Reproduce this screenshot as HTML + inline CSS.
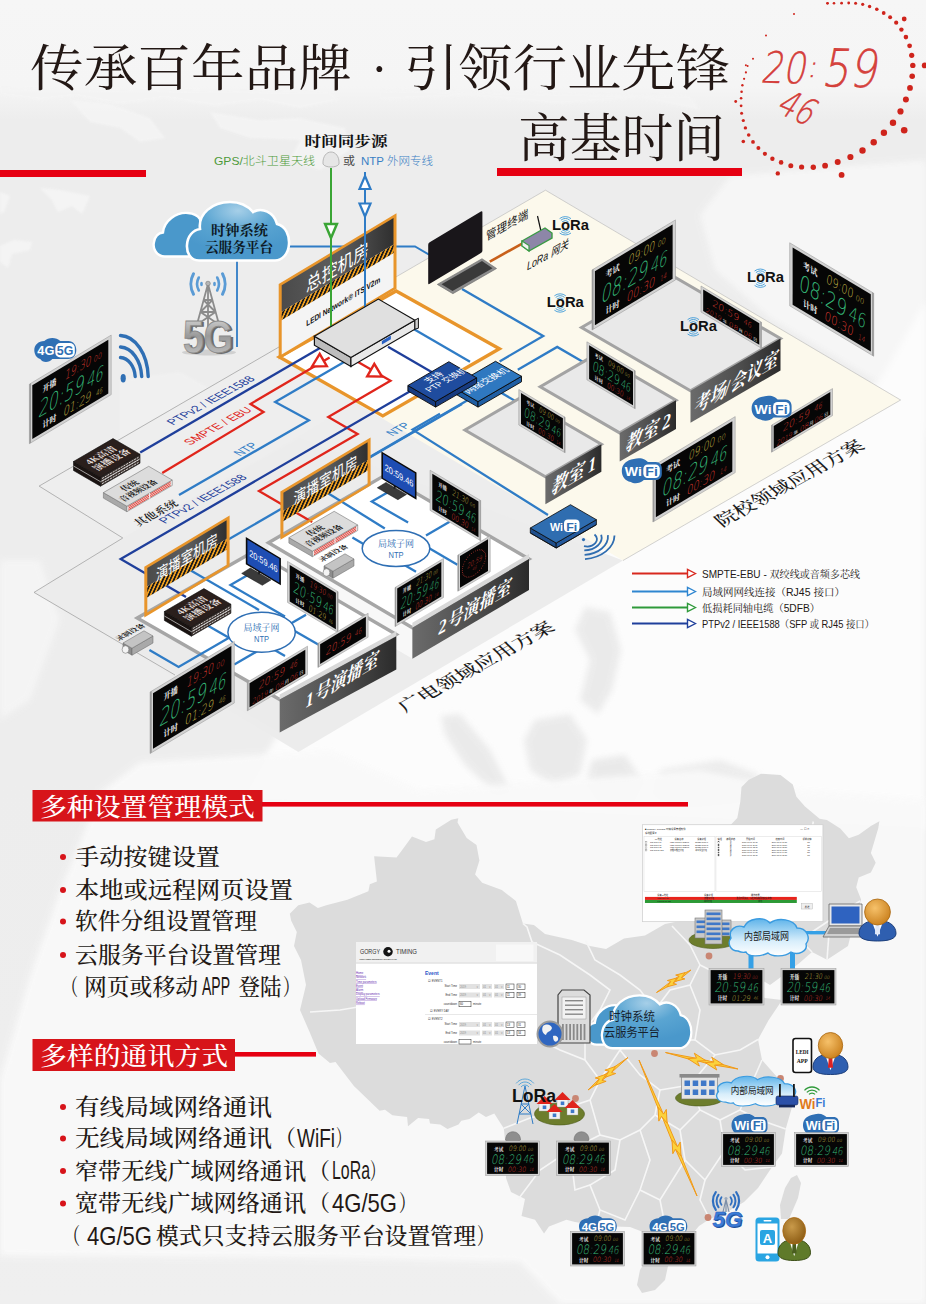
<!DOCTYPE html>
<html lang="zh"><head><meta charset="utf-8"><title>高基时间</title>
<style>html,body{margin:0;padding:0;background:#f1f1f1}svg{display:block}</style></head>
<body>
<svg width="926" height="1304" viewBox="0 0 926 1304">
<defs>
<linearGradient id="bgG" x1="0" y1="0" x2="0" y2="1">
 <stop offset="0" stop-color="#f6f6f6"/><stop offset="0.066" stop-color="#f5f5f5"/>
 <stop offset="0.092" stop-color="#ededed"/><stop offset="0.6" stop-color="#ededed"/>
 <stop offset="1" stop-color="#efefef"/></linearGradient>
<linearGradient id="darkG" x1="0" y1="0" x2="1" y2="0">
 <stop offset="0" stop-color="#4a4a4a"/><stop offset="0.5" stop-color="#5e5e5e"/><stop offset="1" stop-color="#2e2e2e"/></linearGradient>
<linearGradient id="labelG" x1="0" y1="0" x2="1" y2="0">
 <stop offset="0" stop-color="#6b6b6b"/><stop offset="0.55" stop-color="#4d4d4d"/><stop offset="1" stop-color="#2b2b2b"/></linearGradient>
<linearGradient id="cloudG" x1="0" y1="0" x2="0" y2="1">
 <stop offset="0" stop-color="#4f9fce"/><stop offset="1" stop-color="#7dbbe0"/></linearGradient>
<linearGradient id="cloudG2" x1="0" y1="0" x2="0" y2="1">
 <stop offset="0" stop-color="#3f95cf"/><stop offset="1" stop-color="#8cc6ea"/></linearGradient>
<linearGradient id="lanG" x1="0" y1="0" x2="0" y2="1">
 <stop offset="0" stop-color="#5fb4ea"/><stop offset="0.6" stop-color="#d8eefb"/><stop offset="1" stop-color="#ffffff"/></linearGradient>
<linearGradient id="metalG" x1="0" y1="0" x2="0" y2="1">
 <stop offset="0" stop-color="#e8e8e8"/><stop offset="0.5" stop-color="#9a9a9a"/><stop offset="1" stop-color="#c9c9c9"/></linearGradient>
<radialGradient id="headG" cx="0.4" cy="0.35" r="0.7">
 <stop offset="0" stop-color="#f6c16a"/><stop offset="1" stop-color="#c97f1c"/></radialGradient>
<radialGradient id="headG2" cx="0.4" cy="0.35" r="0.7">
 <stop offset="0" stop-color="#c99a4a"/><stop offset="1" stop-color="#8a5a12"/></radialGradient>
<pattern id="hazL" width="5" height="6" patternUnits="userSpaceOnUse" patternTransform="skewX(-32)">
 <rect width="5" height="6" fill="#f0a020"/><rect width="2.600" height="6" fill="#1a1a1a"/></pattern>
<radialGradient id="cloudR" cx="0.5" cy="0.15" r="0.7"><stop offset="0" stop-color="#a6cfe8"/><stop offset="0.5" stop-color="#5aa5d2"/><stop offset="1" stop-color="#4a98cb"/></radialGradient>
<pattern id="dotR" width="1.3" height="1.3" patternUnits="userSpaceOnUse"><circle cx="0.65" cy="0.65" r="0.52" fill="#e03a30"/></pattern>
<pattern id="dotG" width="1.3" height="1.3" patternUnits="userSpaceOnUse"><circle cx="0.65" cy="0.65" r="0.52" fill="#35c07c"/></pattern>
<pattern id="dotY" width="1.3" height="1.3" patternUnits="userSpaceOnUse"><circle cx="0.65" cy="0.65" r="0.52" fill="#d6c64a"/></pattern>
<filter id="blur3"><feGaussianBlur stdDeviation="3"/></filter>
<filter id="blur1"><feGaussianBlur stdDeviation="1.2"/></filter>
</defs>
<rect width="926" height="1304" fill="url(#bgG)"/>
<polygon points="0,95 40,100 75,96 120,104 165,98 215,106 260,100 300,108 340,100 330,92 0,88" fill="#f4f4f4" opacity="0.9" filter="url(#blur1)"/>
<polygon points="70,100 110,104 150,118 165,138 140,142 120,128 90,122" fill="#f5f5f5" opacity="0.8" filter="url(#blur1)"/>
<polygon points="210,112 260,120 300,118 345,128 350,150 320,170 290,160 300,140 250,138 220,128" fill="#f5f5f5" opacity="0.8" filter="url(#blur1)"/>
<polygon points="0,192 10,196 4,212 0,214" fill="#f6f6f6" opacity="0.8" filter="url(#blur1)"/>
<polygon points="40,188 60,190 90,196 82,214 72,206 58,212 52,200" fill="#f6f6f6" opacity="0.8" filter="url(#blur1)"/>
<polygon points="0,246 14,240 32,242 30,250 12,254 8,268 0,262" fill="#f6f6f6" opacity="0.8" filter="url(#blur1)"/>
<polygon points="380,100 470,96 560,104 640,98 700,110 690,96 380,90" fill="#f4f4f4" opacity="0.8" filter="url(#blur1)"/>
<polygon points="120,380 180,372 230,400 250,440 220,470 180,450 150,470 120,440" fill="#f3f3f3" opacity="0.6" filter="url(#blur1)"/>
<polygon points="730,176 800,170 926,160 926,440 905,398 770,318 715,270 700,215" fill="#f7f7f7" opacity="0.95" filter="url(#blur3)"/>
<polygon points="926,300 880,380 600,540 280,730 240,800 926,830" fill="#fcfcfc" opacity="1.0" filter="url(#blur3)"/>
<polygon points="585,607 610,612 621,650 612,690 598,714 580,700 590,660 575,630" fill="#e8e8e8" opacity="0.85" filter="url(#blur3)"/>
<polygon points="535,720 570,714 587,740 580,775 555,787 530,770 524,740" fill="#e8e8e8" opacity="0.85" filter="url(#blur3)"/>
<polygon points="441,716 460,714 490,750 510,790 495,793 465,765 445,735" fill="#e8e8e8" opacity="0.85" filter="url(#blur3)"/>
<polygon points="592,760 625,755 642,780 630,804 600,800 587,780" fill="#e8e8e8" opacity="0.9" filter="url(#blur3)"/>
<polygon points="660,770 720,760 760,775 740,800 690,805 655,795" fill="#e8e8e8" opacity="0.8" filter="url(#blur3)"/>
<polygon points="140,762 330,750 420,790 560,780 700,770 800,790 926,800 926,1304 560,1304 520,1262 300,1258 0,1256 0,1078 30,975 60,890 100,792" fill="#f9f9f9" opacity="0.95" filter="url(#blur3)"/>
<polygon points="0,560 40,560 60,620 30,700 0,720" fill="#f8f8f8" opacity="0.7" filter="url(#blur3)"/>
<text x="30" y="86" font-family='"Liberation Serif","Noto Serif CJK SC",serif' font-size="50" fill="#231815" font-weight="400" text-anchor="start" textLength="322" lengthAdjust="spacingAndGlyphs"  style="">传承百年品牌</text>
<text x="371" y="86" font-family='"Liberation Serif","Noto Serif CJK SC",serif' font-size="50" fill="#231815" font-weight="400" text-anchor="start"  style="">·</text>
<text x="404" y="86" font-family='"Liberation Serif","Noto Serif CJK SC",serif' font-size="50" fill="#231815" font-weight="400" text-anchor="start" textLength="326" lengthAdjust="spacingAndGlyphs"  style="">引领行业先锋</text>
<text x="518" y="156.5" font-family='"Liberation Serif","Noto Serif CJK SC",serif' font-size="52" fill="#231815" font-weight="400" text-anchor="start" textLength="207" lengthAdjust="spacingAndGlyphs"  style="">高基时间</text>
<rect x="0" y="170" width="146" height="7" fill="#e60012"/>
<rect x="497" y="168" width="245" height="8" fill="#e60012"/>
<circle cx="827.5" cy="3.2" r="1.2" fill="#cf241c"/>
<circle cx="834" cy="3.2" r="1.3" fill="#cf241c"/>
<circle cx="841.6" cy="3.2" r="1.4" fill="#cf241c"/>
<circle cx="848.7" cy="3" r="1.4" fill="#cf241c"/>
<circle cx="855.6" cy="3.2" r="1.5" fill="#cf241c"/>
<circle cx="862.7" cy="4.3" r="1.6" fill="#cf241c"/>
<circle cx="869.6" cy="6.5" r="1.7" fill="#cf241c"/>
<circle cx="876.8" cy="9.3" r="1.8" fill="#cf241c"/>
<circle cx="883.7" cy="13" r="1.9" fill="#cf241c"/>
<circle cx="890.1" cy="17.3" r="2" fill="#cf241c"/>
<circle cx="896.2" cy="22.7" r="2.1" fill="#cf241c"/>
<circle cx="901.4" cy="29.6" r="2.2" fill="#cf241c"/>
<circle cx="905.9" cy="37.1" r="2.3" fill="#cf241c"/>
<circle cx="909.6" cy="45.8" r="2.4" fill="#cf241c"/>
<circle cx="911.7" cy="55.3" r="2.6" fill="#cf241c"/>
<circle cx="912.8" cy="65.4" r="2.7" fill="#cf241c"/>
<circle cx="912.2" cy="76.2" r="2.8" fill="#cf241c"/>
<circle cx="910" cy="87.9" r="2.9" fill="#cf241c"/>
<circle cx="905.9" cy="99.6" r="3" fill="#cf241c"/>
<circle cx="900.5" cy="111.4" r="3.1" fill="#cf241c"/>
<circle cx="893" cy="122.7" r="3.2" fill="#cf241c"/>
<circle cx="883.9" cy="132.8" r="3.2" fill="#cf241c"/>
<circle cx="873.7" cy="142.3" r="3.2" fill="#cf241c"/>
<circle cx="862.5" cy="150.5" r="3.2" fill="#cf241c"/>
<circle cx="850.4" cy="157" r="3.1" fill="#cf241c"/>
<circle cx="837.7" cy="162" r="3" fill="#cf241c"/>
<circle cx="825.1" cy="165.7" r="2.9" fill="#cf241c"/>
<circle cx="813.3" cy="167.2" r="2.7" fill="#cf241c"/>
<circle cx="801.6" cy="167" r="2.6" fill="#cf241c"/>
<circle cx="790.8" cy="165.7" r="2.5" fill="#cf241c"/>
<circle cx="781.1" cy="162.4" r="2.3" fill="#cf241c"/>
<circle cx="772.4" cy="158.7" r="2.2" fill="#cf241c"/>
<circle cx="764.9" cy="153.8" r="2.1" fill="#cf241c"/>
<circle cx="758.4" cy="147.9" r="2" fill="#cf241c"/>
<circle cx="753" cy="141.9" r="1.9" fill="#cf241c"/>
<circle cx="748.7" cy="135" r="1.8" fill="#cf241c"/>
<circle cx="745.4" cy="127.9" r="1.7" fill="#cf241c"/>
<circle cx="743.3" cy="120.5" r="1.6" fill="#cf241c"/>
<circle cx="741.6" cy="113.2" r="1.5" fill="#cf241c"/>
<circle cx="741.1" cy="105.8" r="1.4" fill="#cf241c"/>
<circle cx="741.1" cy="98.3" r="1.3" fill="#cf241c"/>
<circle cx="741.6" cy="91.8" r="1.3" fill="#cf241c"/>
<circle cx="742.4" cy="85.3" r="1.2" fill="#cf241c"/>
<circle cx="744.1" cy="78.8" r="1.1" fill="#cf241c"/>
<circle cx="745.9" cy="72.4" r="1.1" fill="#cf241c"/>
<circle cx="747.6" cy="65.9" r="1" fill="#cf241c"/>
<circle cx="753" cy="58.7" r="1" fill="#cf241c"/>
<circle cx="904.2" cy="19" r="2.4" fill="#cf241c"/>
<circle cx="924.7" cy="65.4" r="2.9" fill="#cf241c"/>
<circle cx="904.2" cy="130.2" r="3.3" fill="#cf241c"/>
<circle cx="841.6" cy="174.9" r="2.9" fill="#cf241c"/>
<circle cx="777.8" cy="173.4" r="2.2" fill="#cf241c"/>
<circle cx="743.3" cy="141.5" r="1.8" fill="#cf241c"/>
<circle cx="735.7" cy="101.5" r="1.4" fill="#cf241c"/>
<circle cx="745.9" cy="65.2" r="1" fill="#cf241c"/>
<circle cx="766" cy="35.6" r="1" fill="#cf241c"/>
<circle cx="794" cy="14" r="1" fill="#cf241c"/>
<circle cx="827.5" cy="3.2" r="1.2" fill="#cf241c"/>
<g fill="#d0241c" stroke="#d0241c" stroke-width="0.5" font-family='"DejaVu Sans Light","DejaVu Sans","Liberation Sans",sans-serif' font-weight="200" fill-opacity="0.85" stroke-opacity="0.85">
<text transform="matrix(1,0.02,-0.2,1,760,82.5)" font-size="43" textLength="45" lengthAdjust="spacingAndGlyphs">20</text>
<text transform="matrix(1,0.02,-0.2,1,806.5,77)" font-size="30">:</text>
<text transform="matrix(1,0.03,-0.2,1,821,86)" font-size="52" textLength="55" lengthAdjust="spacingAndGlyphs">59</text>
<text transform="translate(774.5,111.5) rotate(24) skewX(-10)" font-size="37" textLength="36" lengthAdjust="spacingAndGlyphs">46</text>
</g>
<polygon points="39.1,486.1 280,346.4 363.7,398.3 122.8,538" fill="#eeeeee" />
<polyline points="280,346.4 39.1,486.1 122.8,538" fill="none" stroke="#9a9a9a" stroke-width="0.7" stroke-linejoin="miter" />
<polygon points="34,592.4 122.8,538 300,438 623,560.5 298.4,752" fill="#ececec" />
<polyline points="122.8,538 34,592.4 175,675" fill="none" stroke="#9a9a9a" stroke-width="0.7" stroke-linejoin="miter" />
<polygon points="545.5,190.2 900.6,400 623,560.5 290,363.9 290,338.4" fill="#fcf9ec" />
<polyline points="290,338.4 545.5,190.2 900.6,400 623,560.5" fill="none" stroke="#b5b5b5" stroke-width="0.6" stroke-linejoin="miter" />
<polygon points="279.4,357 396.1,290.9 499.4,348.7 382.8,415.9" fill="#ffffff" stroke="#e8952b" stroke-width="3.4" />
<polygon points="268.5,542.7 412.4,627.7 412.4,658.7 268.5,573.7" fill="#f8f8f8" />
<polygon points="268.5,542.7 385.1,475.1 529,559 412.4,627.7" fill="#ffffff" stroke="#a6a6a6" stroke-width="3.4" />
<polygon points="137.2,618 279.7,699.5 279.7,732.5 137.2,651" fill="#ebebeb" />
<polygon points="137.2,618 253.8,551.5 396.3,634.5 279.7,699.5" fill="#ffffff" stroke="#a6a6a6" stroke-width="3.4" />
<polyline points="288,246.5 415,246.5 429,254.6" fill="none" stroke="#2f7cc6" stroke-width="1.8" stroke-linejoin="miter" />
<polyline points="237,258 237,347" fill="none" stroke="#2f7cc6" stroke-width="1.8" stroke-linejoin="miter" />
<polyline points="331,168 331,350" fill="none" stroke="#3aa535" stroke-width="2" stroke-linejoin="miter" />
<polyline points="365,172 365,340" fill="none" stroke="#2f7cc6" stroke-width="2" stroke-linejoin="miter" />
<polyline points="140.2,452.4 320,348" fill="none" stroke="#1f3f9b" stroke-width="2.3" stroke-linejoin="miter" />
<polyline points="162.2,473 263.5,412 250.5,404 329.6,357.5" fill="none" stroke="#e0251b" stroke-width="2.3" stroke-linejoin="miter" />
<polyline points="179,495 308.9,420.2 275.2,402 345,361.5" fill="none" stroke="#2f7cc6" stroke-width="2.3" stroke-linejoin="miter" />
<polyline points="352,358.5 390.5,380.8 328.3,416.9 357.6,433.9 259,491.1 312.2,522" fill="none" stroke="#e0251b" stroke-width="2.3" stroke-linejoin="miter" />
<polyline points="420,385.5 120.7,559.1 186,597" fill="none" stroke="#1f3f9b" stroke-width="2.3" stroke-linejoin="miter" />
<polyline points="388,346.8 432,372.3" fill="none" stroke="#1f3f9b" stroke-width="2.3" stroke-linejoin="miter" />
<polyline points="405,324 470,361.7" fill="none" stroke="#2f7cc6" stroke-width="2.3" stroke-linejoin="miter" />
<polyline points="462,289 543.2,336.1 499.6,361.4" fill="none" stroke="#2f7cc6" stroke-width="2.3" stroke-linejoin="miter" />
<polyline points="517.8,369.7 557.2,346.9 587,364.2" fill="none" stroke="#2f7cc6" stroke-width="2.3" stroke-linejoin="miter" />
<polyline points="499,391.5 520,403.7" fill="none" stroke="#2f7cc6" stroke-width="2.3" stroke-linejoin="miter" />
<polyline points="480,393.1 369.8,457" fill="none" stroke="#2f7cc6" stroke-width="2.3" stroke-linejoin="miter" />
<polyline points="462,404 228.7,539.3" fill="none" stroke="#2f7cc6" stroke-width="2.3" stroke-linejoin="miter" />
<polyline points="440,413.7 412.6,429.6 548,515" fill="none" stroke="#2f7cc6" stroke-width="2.3" stroke-linejoin="miter" />
<polyline points="187.8,568.7 259,610" fill="none" stroke="#2f7cc6" stroke-width="2.3" stroke-linejoin="miter" />
<polyline points="247.4,575.2 230.5,585 285,616.6" fill="none" stroke="#2f7cc6" stroke-width="2.3" stroke-linejoin="miter" />
<polyline points="208,625.7 232,639.6" fill="none" stroke="#2f7cc6" stroke-width="2.3" stroke-linejoin="miter" />
<polyline points="149.4,650 178.6,667 232,636" fill="none" stroke="#2f7cc6" stroke-width="2.3" stroke-linejoin="miter" />
<polyline points="262.8,648 234.3,664.5" fill="none" stroke="#2f7cc6" stroke-width="2.3" stroke-linejoin="miter" />
<polyline points="266,645 285,656" fill="none" stroke="#2f7cc6" stroke-width="2.3" stroke-linejoin="miter" />
<polyline points="290,624 306,614.7" fill="none" stroke="#2f7cc6" stroke-width="2.3" stroke-linejoin="miter" />
<polyline points="293,630 326,649" fill="none" stroke="#2f7cc6" stroke-width="2.3" stroke-linejoin="miter" />
<polyline points="326.5,492.2 384.8,528.5" fill="none" stroke="#2f7cc6" stroke-width="2.3" stroke-linejoin="miter" />
<polyline points="390,491 371.8,501.6 408.1,522.6" fill="none" stroke="#2f7cc6" stroke-width="2.3" stroke-linejoin="miter" />
<polyline points="352.4,537.6 366,545.5" fill="none" stroke="#2f7cc6" stroke-width="2.3" stroke-linejoin="miter" />
<polyline points="426,535.5 449.6,521.7" fill="none" stroke="#2f7cc6" stroke-width="2.3" stroke-linejoin="miter" />
<polyline points="426.3,546.6 457.4,564.8" fill="none" stroke="#2f7cc6" stroke-width="2.3" stroke-linejoin="miter" />
<polyline points="401,563 416,571.7" fill="none" stroke="#2f7cc6" stroke-width="2.3" stroke-linejoin="miter" />
<polygon points="73.5,461.5 100.5,477.2 100.5,486.2 73.5,470.5" fill="#1a1311" stroke="#0c0c0c" stroke-width="0.6" />
<polygon points="100.5,477.2 140,454.2 140,463.2 100.5,486.2" fill="#3a302c" stroke="#0c0c0c" stroke-width="0.6" />
<polygon points="73.5,461.5 113,438.6 140,454.2 100.5,477.2" fill="#2a1f1c" stroke="#0c0c0c" stroke-width="0.6" />
<polyline points="102,478.5 138.5,457.3" fill="none" stroke="#e8e8e8" stroke-width="0.9" stroke-linejoin="miter" stroke-dasharray="2.2 0.9"/>
<polyline points="102,481.1 138.5,459.9" fill="none" stroke="#e8e8e8" stroke-width="0.9" stroke-linejoin="miter" stroke-dasharray="2.2 0.9"/>
<polyline points="102,483.7 138.5,462.5" fill="none" stroke="#e8e8e8" stroke-width="0.9" stroke-linejoin="miter" stroke-dasharray="2.2 0.9"/>
<polyline points="73.5,466 100.5,481.7 140,458.8" fill="none" stroke="#d8d8d8" stroke-width="0.7" stroke-linejoin="miter" />
<g transform="matrix(0.9,-0.5,0.9,0.5,90,464.7)">
<text x="0" y="0" font-family='"Liberation Serif","Noto Serif CJK SC",serif' font-size="9.8" font-weight="bold" fill="#e6dfdb" textLength="31" lengthAdjust="spacingAndGlyphs">4K高清</text>
<text x="-2" y="10.4" font-family='"Liberation Serif","Noto Serif CJK SC",serif' font-size="9.8" font-weight="bold" fill="#e6dfdb" textLength="38" lengthAdjust="spacingAndGlyphs">演播设备</text>
</g>
<polygon points="103.4,492.6 126.9,506.2 126.9,511.7 103.4,498.1" fill="#a9a9a9" stroke="#777" stroke-width="0.6" />
<polygon points="126.9,506.2 172.2,480 172.2,485.5 126.9,511.7" fill="#f2f2f2" stroke="#777" stroke-width="0.6" />
<polygon points="103.4,492.6 148.7,466.3 172.2,480 126.9,506.2" fill="#dcdcdc" stroke="#777" stroke-width="0.6" />
<polyline points="128.4,506.6 170.7,482" fill="none" stroke="#e2352b" stroke-width="0.9" stroke-linejoin="miter" />
<polyline points="128.4,508.2 170.7,483.6" fill="none" stroke="#e2352b" stroke-width="0.9" stroke-linejoin="miter" />
<polyline points="128.4,509.8 170.7,485.2" fill="none" stroke="#e2352b" stroke-width="0.9" stroke-linejoin="miter" />
<polyline points="149.6,493.1 149.6,498.6" fill="none" stroke="#f2f2f2" stroke-width="1" stroke-linejoin="miter" />
<g transform="matrix(0.9,-0.5,0.9,0.5,118.4,495.1)">
<text x="7" y="0" font-family='"Liberation Serif","Noto Serif CJK SC",serif' font-size="8.8" font-weight="bold" fill="#1c1c1c" textLength="17" lengthAdjust="spacingAndGlyphs">传统</text>
<text x="-4" y="9.6" font-family='"Liberation Serif","Noto Serif CJK SC",serif' font-size="8.8" font-weight="bold" fill="#1c1c1c" textLength="39" lengthAdjust="spacingAndGlyphs">音视频设备</text>
</g>
<g transform="matrix(0.9,-0.5,0.9,0.5,138.5,527)">
<text x="0" y="0" font-family='"Liberation Serif","Noto Serif CJK SC",serif' font-size="11.8" font-weight="600" font-style="italic" fill="#1a1a1a" textLength="45" lengthAdjust="spacingAndGlyphs">其他系统</text>
</g>
<g transform="matrix(0.9,-0.5,0.9,0.5,173,425.5)">
<text x="0" y="0" font-family='"Liberation Sans","Noto Sans CJK SC",sans-serif' font-size="12" fill="#1f3f9b" textLength="92" lengthAdjust="spacingAndGlyphs">PTPv2 / IEEE1588</text>
</g>
<g transform="matrix(0.9,-0.5,0.9,0.5,190,445.5)">
<text x="0" y="0" font-family='"Liberation Sans","Noto Sans CJK SC",sans-serif' font-size="12" fill="#e0251b" textLength="70" lengthAdjust="spacingAndGlyphs">SMPTE / EBU</text>
</g>
<g transform="matrix(0.9,-0.5,0.9,0.5,240,456.5)">
<text x="0" y="0" font-family='"Liberation Sans","Noto Sans CJK SC",sans-serif' font-size="12" fill="#2f7cc6" textLength="21" lengthAdjust="spacingAndGlyphs">NTP</text>
</g>
<g transform="matrix(0.9,-0.5,0.9,0.5,165,524)">
<text x="0" y="0" font-family='"Liberation Sans","Noto Sans CJK SC",sans-serif' font-size="12" fill="#1f3f9b" textLength="92" lengthAdjust="spacingAndGlyphs">PTPv2 / IEEE1588</text>
</g>
<g transform="matrix(0.9,-0.5,0.9,0.5,392.5,436.5)">
<text x="0" y="0" font-family='"Liberation Sans","Noto Sans CJK SC",sans-serif' font-size="12" fill="#2f7cc6" textLength="21" lengthAdjust="spacingAndGlyphs">NTP</text>
</g>
<g transform="matrix(1,-0.6,0,1,280.2,284.6)">
<rect x="0" y="0" width="114.8" height="72.4" fill="#f4f4f4"/>
<rect x="0" y="0" width="114.8" height="28" fill="url(#darkG)"/>
<rect x="0" y="28" width="114.8" height="8.5" fill="url(#hazL)"/>
<rect x="0" y="0" width="114.8" height="72.4" fill="none" stroke="#e8952b" stroke-width="3"/>
<text x="57.4" y="23.8" font-family='"Liberation Sans","Noto Sans CJK SC",sans-serif' font-size="18.5" fill="#ffffff" text-anchor="middle" textLength="63" lengthAdjust="spacingAndGlyphs">总控机房</text>
<text x="26" y="57.5" font-family='"Liberation Sans","Noto Sans CJK SC",sans-serif' font-size="8.4" font-weight="bold" fill="#111" textLength="74" lengthAdjust="spacingAndGlyphs">LEDI Network® ITS V2m</text>
</g>
<polyline points="331,168 331,342" fill="none" stroke="#3aa535" stroke-width="2" stroke-linejoin="miter" />
<polyline points="365,172 365,322" fill="none" stroke="#2f7cc6" stroke-width="2" stroke-linejoin="miter" />
<polygon points="314.4,336.2 350.9,357.4 350.9,366.4 314.4,345.2" fill="#bdbdbd" stroke="#111" stroke-width="1.2" />
<polygon points="350.9,357.4 414.9,320.2 414.9,329.2 350.9,366.4" fill="#e9e9e9" stroke="#111" stroke-width="1.2" />
<polygon points="314.4,336.2 378.4,299.1 414.9,320.2 350.9,357.4" fill="#e0e0e0" stroke="#111" stroke-width="1.2" />
<rect transform="matrix(1,-0.6,0,1,350.9,357.4)" x="31" y="2.2" width="9" height="3.6" fill="#2b62c4"/>
<polygon points="414.9,320.2 418.4,318.2 418.4,328.2 414.9,329.2" fill="#d0d0d0" stroke="#111" stroke-width="1" />
<polygon points="312,366.5 319.7,353.8 326.8,366.2" fill="#ffffff" stroke="#e0251b" stroke-width="2.4" stroke-linejoin="miter"/>
<polygon points="382,376.6 367.2,376.3 374.3,363.9" fill="#ffffff" stroke="#e0251b" stroke-width="2.4" stroke-linejoin="miter"/>
<polygon points="331,238 325.1,224 336.9,224" fill="#ffffff" stroke="#3aa535" stroke-width="2.5" stroke-linejoin="miter"/>
<polygon points="365,176 370.5,189 359.5,189" fill="#ffffff" stroke="#2f7cc6" stroke-width="2.2" stroke-linejoin="miter"/>
<polygon points="365,216.5 359.5,203.5 370.5,203.5" fill="#ffffff" stroke="#2f7cc6" stroke-width="2.2" stroke-linejoin="miter"/>
<polygon points="452,386.5 478,401.6 478,407.1 452,392" fill="#1f5ea3" stroke="#0a0a0a" stroke-width="0.9" />
<polygon points="478,401.6 521.5,376.3 521.5,381.8 478,407.1" fill="#1f5ea3" stroke="#0a0a0a" stroke-width="0.9" />
<polygon points="452,386.5 495.5,361.3 521.5,376.3 478,401.6" fill="#2f78c0" stroke="#0a0a0a" stroke-width="0.9" />
<g transform="matrix(0.9,-0.5,0.9,0.5,468.5,394)">
<text x="0" y="0" font-family='"Liberation Sans","Noto Sans CJK SC",sans-serif' font-size="9.3" fill="#ffffff" textLength="46" lengthAdjust="spacingAndGlyphs">网络交换机</text>
</g>
<polygon points="407.9,385.5 435.6,401.6 435.6,407.1 407.9,391" fill="#173b80" stroke="#0a0a0a" stroke-width="0.9" />
<polygon points="435.6,401.6 476.6,377.8 476.6,383.3 435.6,407.1" fill="#173b80" stroke="#0a0a0a" stroke-width="0.9" />
<polygon points="407.9,385.5 448.9,361.7 476.6,377.8 435.6,401.6" fill="#1f4c9e" stroke="#0a0a0a" stroke-width="0.9" />
<g transform="matrix(0.9,-0.5,0.9,0.5,428.5,383.5)">
<text x="0" y="0" font-family='"Liberation Sans","Noto Sans CJK SC",sans-serif' font-size="9" fill="#ffffff" textLength="18" lengthAdjust="spacingAndGlyphs">支持</text>
<text x="-8" y="9.5" font-family='"Liberation Sans","Noto Sans CJK SC",sans-serif' font-size="9" fill="#ffffff" textLength="43" lengthAdjust="spacingAndGlyphs">PTP 交换机</text>
</g>
<polygon points="437.3,284.4 482,258.7 496.6,268.5 452.9,293.7" fill="#8c8c8c" stroke="#6a6a6a" stroke-width="0.6" />
<polygon points="441.5,284.2 482,261 492.5,268.2 452.5,291" fill="#3a3a3a" />
<polyline points="489.8,261.6 523.9,242.6" fill="none" stroke="#c8601a" stroke-width="2.6" stroke-linejoin="miter" />
<g transform="matrix(1,-0.6,0,1,428.2,243.2)">
<rect x="0" y="0" width="54.2" height="41.5" rx="1.5" fill="#19161a"/>
</g>
<g transform="matrix(0.9,-0.5,0,1,486,241)">
<text x="0" y="0" font-family='"Liberation Sans","Noto Sans CJK SC",sans-serif' font-size="12" fill="#1a1a1a" textLength="47" lengthAdjust="spacingAndGlyphs">管理终端</text>
</g>
<polyline points="541.4,233 537.5,216" fill="none" stroke="#111" stroke-width="1.2" stroke-linejoin="miter" />
<polygon points="522,241 545,228 552,233 552,238 529,251 522,246" fill="#8d86a8" stroke="#3a9a44" stroke-width="1.4" />
<polygon points="522,241 529,245.5 529,251 522,246" fill="#f2f2f2" stroke="#3a9a44" stroke-width="1.2" />
<g transform="matrix(0.9,-0.5,0,1,527,270.5)">
<text x="0" y="0" font-family='"Liberation Sans","Noto Sans CJK SC",sans-serif' font-size="11.5" font-style="italic" fill="#111" textLength="46" lengthAdjust="spacingAndGlyphs">LoRa 网关</text>
</g>
<polygon points="581.5,327.5 671.5,275.3 780.5,338.5 690.5,390.7" fill="#e9e9e9" stroke="#a3a3a3" stroke-width="3" />
<polygon points="690.5,390.7 780.5,338.5 780.5,370.5 690.5,422.7" fill="url(#labelG)" />
<g transform="matrix(1,-0.6,0,1,690.5,390.7)">
<text x="3" y="25.6" font-family='"Liberation Serif","Noto Serif CJK SC",serif' font-size="19" font-weight="bold" font-style="italic" fill="#ffffff" textLength="84" lengthAdjust="spacingAndGlyphs">考场/会议室</text>
</g>
<polygon points="540.2,386.8 596.5,354.1 676,400.3 619.7,432.9" fill="#e9e9e9" stroke="#a3a3a3" stroke-width="3" />
<polygon points="619.7,432.9 676,400.3 676,428.9 619.7,461.5" fill="url(#labelG)" />
<g transform="matrix(1,-0.6,0,1,619.7,432.9)">
<text x="5.1" y="22.9" font-family='"Liberation Serif","Noto Serif CJK SC",serif' font-size="19" font-weight="bold" font-style="italic" fill="#ffffff" textLength="46" lengthAdjust="spacingAndGlyphs">教室 2</text>
</g>
<polygon points="464.9,430 520.9,397.5 601.4,444.2 545.4,476.7" fill="#e9e9e9" stroke="#a3a3a3" stroke-width="3" />
<polygon points="545.4,476.7 601.4,444.2 601.4,471.8 545.4,504.3" fill="url(#labelG)" />
<g transform="matrix(1,-0.6,0,1,545.4,476.7)">
<text x="5" y="22.1" font-family='"Liberation Serif","Noto Serif CJK SC",serif' font-size="19" font-weight="bold" font-style="italic" fill="#ffffff" textLength="46" lengthAdjust="spacingAndGlyphs">教室 1</text>
</g>
<g transform="matrix(1,-0.6,0,1,592,270)">
<rect x="0" y="0" width="83.5" height="60" fill="#d2d2d2" stroke="#9c9c9c" stroke-width="0.5"/>
<rect x="0" y="0" width="1.6" height="60" fill="#9a9a9a"/>
<rect x="2.9" y="2.9" width="77.7" height="54.2" fill="#060606"/>
<text x="13.4" y="16.5" font-family='"Liberation Serif","Noto Serif CJK SC",serif' font-weight="bold" font-size="8.7" fill="#f4f4f4" textLength="14.2" lengthAdjust="spacingAndGlyphs">考试</text>
<text transform="translate(35.8,17.1) skewX(-9)" font-family='"DejaVu Sans Light","DejaVu Sans","Liberation Sans",sans-serif' font-weight="200" font-size="12.6" fill="#cdbd48" textLength="26.7" lengthAdjust="spacingAndGlyphs">09:00</text>
<text transform="translate(65.2,16.8) skewX(-9)" font-family='"DejaVu Sans Light","DejaVu Sans","Liberation Sans",sans-serif' font-weight="200" font-size="7.6" fill="#cdbd48" textLength="8.3" lengthAdjust="spacingAndGlyphs">00</text>
<text transform="translate(8.5,39.3) skewX(-9)" font-family='"DejaVu Sans Light","DejaVu Sans","Liberation Sans",sans-serif' font-weight="200" font-size="22.6" fill="#35b777" textLength="46.8" lengthAdjust="spacingAndGlyphs">08:29</text>
<text transform="translate(58,39) skewX(-9)" font-family='"DejaVu Sans Light","DejaVu Sans","Liberation Sans",sans-serif' font-weight="200" font-size="19.4" fill="#35b777" textLength="16.7" lengthAdjust="spacingAndGlyphs">46</text>
<text x="13.4" y="52.5" font-family='"Liberation Serif","Noto Serif CJK SC",serif' font-weight="bold" font-size="8.7" fill="#f4f4f4" textLength="14.2" lengthAdjust="spacingAndGlyphs">计时</text>
<text transform="translate(34.2,53.1) skewX(-9)" font-family='"DejaVu Sans Light","DejaVu Sans","Liberation Sans",sans-serif' font-weight="200" font-size="12.6" fill="#d8382f" textLength="28.4" lengthAdjust="spacingAndGlyphs">00:30</text>
<text transform="translate(67.7,52.5) skewX(-9)" font-family='"DejaVu Sans Light","DejaVu Sans","Liberation Sans",sans-serif' font-weight="200" font-size="7.6" fill="#d8382f" textLength="6.7" lengthAdjust="spacingAndGlyphs">14</text>
</g>
<g transform="matrix(1,0.6,0,1,701,286)">
<rect x="0" y="0" width="60.5" height="26" fill="#d2d2d2" stroke="#9c9c9c" stroke-width="0.5"/>
<rect x="59.3" y="0" width="1.2" height="26" fill="#9a9a9a"/>
<rect x="2.2" y="2.2" width="56.1" height="21.6" fill="#060606"/>
<text transform="translate(10.9,13) skewX(-9)" font-family='"DejaVu Sans Light","DejaVu Sans","Liberation Sans",sans-serif' font-weight="200" font-size="9.6" fill="#d8382f" textLength="26.6" lengthAdjust="spacingAndGlyphs">20:59</text>
<text transform="translate(42.2,12.2) skewX(-9)" font-family='"DejaVu Sans Light","DejaVu Sans","Liberation Sans",sans-serif' font-weight="200" font-size="7.9" fill="#d8382f" textLength="7.9" lengthAdjust="spacingAndGlyphs">46</text>
<text transform="translate(4.6,22.9) skewX(-9)" font-family='"DejaVu Sans Light","DejaVu Sans","Liberation Sans",sans-serif' font-weight="200" font-size="6.6" fill="#d8382f" textLength="15.7" lengthAdjust="spacingAndGlyphs">2019</text>
<text x="21.8" y="22.6" font-family='"Liberation Sans","Noto Sans CJK SC",sans-serif' font-size="4.4" fill="#cfcfcf">年</text>
<text transform="translate(27.6,22.9) skewX(-9)" font-family='"DejaVu Sans Light","DejaVu Sans","Liberation Sans",sans-serif' font-weight="200" font-size="6.6" fill="#d8382f" textLength="9.1" lengthAdjust="spacingAndGlyphs">08</text>
<text x="37.5" y="22.6" font-family='"Liberation Sans","Noto Sans CJK SC",sans-serif' font-size="4.4" fill="#cfcfcf">月</text>
<text transform="translate(42.2,22.9) skewX(-9)" font-family='"DejaVu Sans Light","DejaVu Sans","Liberation Sans",sans-serif' font-weight="200" font-size="6.6" fill="#d8382f" textLength="8.5" lengthAdjust="spacingAndGlyphs">06</text>
<text x="52" y="22.6" font-family='"Liberation Sans","Noto Sans CJK SC",sans-serif' font-size="4.4" fill="#cfcfcf">日</text>
</g>
<g transform="matrix(1,0.6,0,1,586.9,341.8)">
<rect x="0" y="0" width="48.3" height="38" fill="#d2d2d2" stroke="#9c9c9c" stroke-width="0.5"/>
<rect x="47.1" y="0" width="1.2" height="38" fill="#9a9a9a"/>
<rect x="2.2" y="2.2" width="43.9" height="33.6" fill="#060606"/>
<text x="7.7" y="10.5" font-family='"Liberation Serif","Noto Serif CJK SC",serif' font-weight="bold" font-size="5.5" fill="#f4f4f4" textLength="8.2" lengthAdjust="spacingAndGlyphs">考试</text>
<text transform="translate(20.8,10.8) skewX(-9)" font-family='"DejaVu Sans Light","DejaVu Sans","Liberation Sans",sans-serif' font-weight="200" font-size="8" fill="#cdbd48" textLength="15.5" lengthAdjust="spacingAndGlyphs">09:00</text>
<text transform="translate(37.7,10.6) skewX(-9)" font-family='"DejaVu Sans Light","DejaVu Sans","Liberation Sans",sans-serif' font-weight="200" font-size="4.8" fill="#cdbd48" textLength="4.8" lengthAdjust="spacingAndGlyphs">00</text>
<text transform="translate(5,24.9) skewX(-9)" font-family='"DejaVu Sans Light","DejaVu Sans","Liberation Sans",sans-serif' font-weight="200" font-size="14.3" fill="#35b777" textLength="27" lengthAdjust="spacingAndGlyphs">08:29</text>
<text transform="translate(33.6,24.7) skewX(-9)" font-family='"DejaVu Sans Light","DejaVu Sans","Liberation Sans",sans-serif' font-weight="200" font-size="12.3" fill="#35b777" textLength="9.7" lengthAdjust="spacingAndGlyphs">46</text>
<text x="7.7" y="33.2" font-family='"Liberation Serif","Noto Serif CJK SC",serif' font-weight="bold" font-size="5.5" fill="#f4f4f4" textLength="8.2" lengthAdjust="spacingAndGlyphs">计时</text>
<text transform="translate(19.8,33.6) skewX(-9)" font-family='"DejaVu Sans Light","DejaVu Sans","Liberation Sans",sans-serif' font-weight="200" font-size="8" fill="#d8382f" textLength="16.4" lengthAdjust="spacingAndGlyphs">00:30</text>
<text transform="translate(39.2,33.2) skewX(-9)" font-family='"DejaVu Sans Light","DejaVu Sans","Liberation Sans",sans-serif' font-weight="200" font-size="4.8" fill="#d8382f" textLength="3.9" lengthAdjust="spacingAndGlyphs">14</text>
</g>
<g transform="matrix(1,0.6,0,1,518.8,389.5)">
<rect x="0" y="0" width="46.3" height="35.5" fill="#d2d2d2" stroke="#9c9c9c" stroke-width="0.5"/>
<rect x="45.1" y="0" width="1.2" height="35.5" fill="#9a9a9a"/>
<rect x="2.2" y="2.2" width="41.9" height="31.1" fill="#060606"/>
<text x="7.4" y="9.8" font-family='"Liberation Serif","Noto Serif CJK SC",serif' font-weight="bold" font-size="5.1" fill="#f4f4f4" textLength="7.9" lengthAdjust="spacingAndGlyphs">考试</text>
<text transform="translate(19.9,10.1) skewX(-9)" font-family='"DejaVu Sans Light","DejaVu Sans","Liberation Sans",sans-serif' font-weight="200" font-size="7.5" fill="#cdbd48" textLength="14.8" lengthAdjust="spacingAndGlyphs">09:00</text>
<text transform="translate(36.2,9.9) skewX(-9)" font-family='"DejaVu Sans Light","DejaVu Sans","Liberation Sans",sans-serif' font-weight="200" font-size="4.5" fill="#cdbd48" textLength="4.6" lengthAdjust="spacingAndGlyphs">00</text>
<text transform="translate(4.8,23.3) skewX(-9)" font-family='"DejaVu Sans Light","DejaVu Sans","Liberation Sans",sans-serif' font-weight="200" font-size="13.4" fill="#35b777" textLength="25.9" lengthAdjust="spacingAndGlyphs">08:29</text>
<text transform="translate(32.2,23.1) skewX(-9)" font-family='"DejaVu Sans Light","DejaVu Sans","Liberation Sans",sans-serif' font-weight="200" font-size="11.5" fill="#35b777" textLength="9.3" lengthAdjust="spacingAndGlyphs">46</text>
<text x="7.4" y="31.1" font-family='"Liberation Serif","Noto Serif CJK SC",serif' font-weight="bold" font-size="5.1" fill="#f4f4f4" textLength="7.9" lengthAdjust="spacingAndGlyphs">计时</text>
<text transform="translate(19,31.4) skewX(-9)" font-family='"DejaVu Sans Light","DejaVu Sans","Liberation Sans",sans-serif' font-weight="200" font-size="7.5" fill="#d8382f" textLength="15.7" lengthAdjust="spacingAndGlyphs">00:30</text>
<text transform="translate(37.5,31.1) skewX(-9)" font-family='"DejaVu Sans Light","DejaVu Sans","Liberation Sans",sans-serif' font-weight="200" font-size="4.5" fill="#d8382f" textLength="3.7" lengthAdjust="spacingAndGlyphs">14</text>
</g>
<g transform="matrix(1,0.6,0,1,789.7,242.8)">
<rect x="0" y="0" width="84" height="63" fill="#d2d2d2" stroke="#9c9c9c" stroke-width="0.5"/>
<rect x="82.4" y="0" width="1.6" height="63" fill="#9a9a9a"/>
<rect x="2.9" y="2.9" width="78.2" height="57.2" fill="#060606"/>
<text x="13.4" y="17.3" font-family='"Liberation Serif","Noto Serif CJK SC",serif' font-weight="bold" font-size="9.1" fill="#f4f4f4" textLength="14.3" lengthAdjust="spacingAndGlyphs">考试</text>
<text transform="translate(36.1,18) skewX(-9)" font-family='"DejaVu Sans Light","DejaVu Sans","Liberation Sans",sans-serif' font-weight="200" font-size="13.3" fill="#cdbd48" textLength="26.9" lengthAdjust="spacingAndGlyphs">09:00</text>
<text transform="translate(65.6,17.6) skewX(-9)" font-family='"DejaVu Sans Light","DejaVu Sans","Liberation Sans",sans-serif' font-weight="200" font-size="8" fill="#cdbd48" textLength="8.4" lengthAdjust="spacingAndGlyphs">00</text>
<text transform="translate(8.6,41.3) skewX(-9)" font-family='"DejaVu Sans Light","DejaVu Sans","Liberation Sans",sans-serif' font-weight="200" font-size="23.8" fill="#35b777" textLength="47" lengthAdjust="spacingAndGlyphs">08:29</text>
<text transform="translate(58.4,41) skewX(-9)" font-family='"DejaVu Sans Light","DejaVu Sans","Liberation Sans",sans-serif' font-weight="200" font-size="20.4" fill="#35b777" textLength="16.8" lengthAdjust="spacingAndGlyphs">46</text>
<text x="13.4" y="55.1" font-family='"Liberation Serif","Noto Serif CJK SC",serif' font-weight="bold" font-size="9.1" fill="#f4f4f4" textLength="14.3" lengthAdjust="spacingAndGlyphs">计时</text>
<text transform="translate(34.4,55.8) skewX(-9)" font-family='"DejaVu Sans Light","DejaVu Sans","Liberation Sans",sans-serif' font-weight="200" font-size="13.3" fill="#d8382f" textLength="28.6" lengthAdjust="spacingAndGlyphs">00:30</text>
<text transform="translate(68.1,55.1) skewX(-9)" font-family='"DejaVu Sans Light","DejaVu Sans","Liberation Sans",sans-serif' font-weight="200" font-size="8" fill="#d8382f" textLength="6.7" lengthAdjust="spacingAndGlyphs">14</text>
</g>
<g transform="matrix(1,-0.6,0,1,652.9,466)">
<rect x="0" y="0" width="82.3" height="56" fill="#d2d2d2" stroke="#9c9c9c" stroke-width="0.5"/>
<rect x="0" y="0" width="1.6" height="56" fill="#9a9a9a"/>
<rect x="2.9" y="2.9" width="76.5" height="50.2" fill="#060606"/>
<text x="13.2" y="15.4" font-family='"Liberation Serif","Noto Serif CJK SC",serif' font-weight="bold" font-size="8.1" fill="#f4f4f4" textLength="14" lengthAdjust="spacingAndGlyphs">考试</text>
<text transform="translate(35.3,16) skewX(-9)" font-family='"DejaVu Sans Light","DejaVu Sans","Liberation Sans",sans-serif' font-weight="200" font-size="11.8" fill="#cdbd48" textLength="26.3" lengthAdjust="spacingAndGlyphs">09:00</text>
<text transform="translate(64.2,15.7) skewX(-9)" font-family='"DejaVu Sans Light","DejaVu Sans","Liberation Sans",sans-serif' font-weight="200" font-size="7.1" fill="#cdbd48" textLength="8.2" lengthAdjust="spacingAndGlyphs">00</text>
<text transform="translate(8.3,36.7) skewX(-9)" font-family='"DejaVu Sans Light","DejaVu Sans","Liberation Sans",sans-serif' font-weight="200" font-size="21.1" fill="#35b777" textLength="46.1" lengthAdjust="spacingAndGlyphs">08:29</text>
<text transform="translate(57.1,36.4) skewX(-9)" font-family='"DejaVu Sans Light","DejaVu Sans","Liberation Sans",sans-serif' font-weight="200" font-size="18.1" fill="#35b777" textLength="16.5" lengthAdjust="spacingAndGlyphs">46</text>
<text x="13.2" y="49" font-family='"Liberation Serif","Noto Serif CJK SC",serif' font-weight="bold" font-size="8.1" fill="#f4f4f4" textLength="14" lengthAdjust="spacingAndGlyphs">计时</text>
<text transform="translate(33.6,49.6) skewX(-9)" font-family='"DejaVu Sans Light","DejaVu Sans","Liberation Sans",sans-serif' font-weight="200" font-size="11.8" fill="#d8382f" textLength="28" lengthAdjust="spacingAndGlyphs">00:30</text>
<text transform="translate(66.7,49) skewX(-9)" font-family='"DejaVu Sans Light","DejaVu Sans","Liberation Sans",sans-serif' font-weight="200" font-size="7.1" fill="#d8382f" textLength="6.6" lengthAdjust="spacingAndGlyphs">14</text>
</g>
<g transform="matrix(1,-0.6,0,1,771.5,425.2)">
<rect x="0" y="0" width="61" height="27" fill="#d2d2d2" stroke="#9c9c9c" stroke-width="0.5"/>
<rect x="0" y="0" width="1.2" height="27" fill="#9a9a9a"/>
<rect x="2.2" y="2.2" width="56.6" height="22.6" fill="#060606"/>
<text transform="translate(11,13.5) skewX(-9)" font-family='"DejaVu Sans Light","DejaVu Sans","Liberation Sans",sans-serif' font-weight="200" font-size="9.9" fill="#d8382f" textLength="26.8" lengthAdjust="spacingAndGlyphs">20:59</text>
<text transform="translate(42.6,12.7) skewX(-9)" font-family='"DejaVu Sans Light","DejaVu Sans","Liberation Sans",sans-serif' font-weight="200" font-size="8.2" fill="#d8382f" textLength="7.9" lengthAdjust="spacingAndGlyphs">46</text>
<text transform="translate(4.7,23.8) skewX(-9)" font-family='"DejaVu Sans Light","DejaVu Sans","Liberation Sans",sans-serif' font-weight="200" font-size="6.9" fill="#d8382f" textLength="15.9" lengthAdjust="spacingAndGlyphs">2019</text>
<text x="22" y="23.5" font-family='"Liberation Sans","Noto Sans CJK SC",sans-serif' font-size="4.6" fill="#cfcfcf">年</text>
<text transform="translate(27.9,23.8) skewX(-9)" font-family='"DejaVu Sans Light","DejaVu Sans","Liberation Sans",sans-serif' font-weight="200" font-size="6.9" fill="#d8382f" textLength="9.2" lengthAdjust="spacingAndGlyphs">08</text>
<text x="37.8" y="23.5" font-family='"Liberation Sans","Noto Sans CJK SC",sans-serif' font-size="4.6" fill="#cfcfcf">月</text>
<text transform="translate(42.5,23.8) skewX(-9)" font-family='"DejaVu Sans Light","DejaVu Sans","Liberation Sans",sans-serif' font-weight="200" font-size="6.9" fill="#d8382f" textLength="8.5" lengthAdjust="spacingAndGlyphs">06</text>
<text x="52.5" y="23.5" font-family='"Liberation Sans","Noto Sans CJK SC",sans-serif' font-size="4.6" fill="#cfcfcf">日</text>
</g>
<path d="M562.1 221.8 A5.2 5.2 0 0 1 568.5 221.8" fill="none" stroke="#3d9ad8" stroke-width="0.9"/>
<path d="M562.1 229.9 A5.2 5.2 0 0 0 568.5 229.9" fill="none" stroke="#3d9ad8" stroke-width="0.9"/>
<path d="M560.9 220.2 A7.2 7.2 0 0 1 569.8 220.2" fill="none" stroke="#3d9ad8" stroke-width="0.9"/>
<path d="M560.9 231.4 A7.2 7.2 0 0 0 569.8 231.4" fill="none" stroke="#3d9ad8" stroke-width="0.9"/>
<path d="M559.6 218.6 A9.2 9.2 0 0 1 571 218.6" fill="none" stroke="#3d9ad8" stroke-width="0.9"/>
<path d="M559.6 233 A9.2 9.2 0 0 0 571 233" fill="none" stroke="#3d9ad8" stroke-width="0.9"/>
<text x="552" y="230" font-family='"Liberation Sans","Noto Sans CJK SC",sans-serif' font-size="15.5" fill="#111111" font-weight="bold" text-anchor="start" textLength="37" lengthAdjust="spacingAndGlyphs"  style="">LoRa</text>
<path d="M556.9 299 A5.2 5.2 0 0 1 563.3 299" fill="none" stroke="#3d9ad8" stroke-width="0.9"/>
<path d="M556.9 307.1 A5.2 5.2 0 0 0 563.3 307.1" fill="none" stroke="#3d9ad8" stroke-width="0.9"/>
<path d="M555.7 297.4 A7.2 7.2 0 0 1 564.6 297.4" fill="none" stroke="#3d9ad8" stroke-width="0.9"/>
<path d="M555.7 308.6 A7.2 7.2 0 0 0 564.6 308.6" fill="none" stroke="#3d9ad8" stroke-width="0.9"/>
<path d="M554.4 295.8 A9.2 9.2 0 0 1 565.8 295.8" fill="none" stroke="#3d9ad8" stroke-width="0.9"/>
<path d="M554.4 310.2 A9.2 9.2 0 0 0 565.8 310.2" fill="none" stroke="#3d9ad8" stroke-width="0.9"/>
<text x="546.8" y="307.2" font-family='"Liberation Sans","Noto Sans CJK SC",sans-serif' font-size="15.5" fill="#111111" font-weight="bold" text-anchor="start" textLength="37" lengthAdjust="spacingAndGlyphs"  style="">LoRa</text>
<path d="M757.1 274.2 A5.2 5.2 0 0 1 763.5 274.2" fill="none" stroke="#3d9ad8" stroke-width="0.9"/>
<path d="M757.1 282.3 A5.2 5.2 0 0 0 763.5 282.3" fill="none" stroke="#3d9ad8" stroke-width="0.9"/>
<path d="M755.9 272.6 A7.2 7.2 0 0 1 764.8 272.6" fill="none" stroke="#3d9ad8" stroke-width="0.9"/>
<path d="M755.9 283.8 A7.2 7.2 0 0 0 764.8 283.8" fill="none" stroke="#3d9ad8" stroke-width="0.9"/>
<path d="M754.6 271 A9.2 9.2 0 0 1 766 271" fill="none" stroke="#3d9ad8" stroke-width="0.9"/>
<path d="M754.6 285.4 A9.2 9.2 0 0 0 766 285.4" fill="none" stroke="#3d9ad8" stroke-width="0.9"/>
<text x="747" y="282.4" font-family='"Liberation Sans","Noto Sans CJK SC",sans-serif' font-size="15.5" fill="#111111" font-weight="bold" text-anchor="start" textLength="37" lengthAdjust="spacingAndGlyphs"  style="">LoRa</text>
<path d="M690.1 322.8 A5.2 5.2 0 0 1 696.5 322.8" fill="none" stroke="#3d9ad8" stroke-width="0.9"/>
<path d="M690.1 330.9 A5.2 5.2 0 0 0 696.5 330.9" fill="none" stroke="#3d9ad8" stroke-width="0.9"/>
<path d="M688.9 321.2 A7.2 7.2 0 0 1 697.8 321.2" fill="none" stroke="#3d9ad8" stroke-width="0.9"/>
<path d="M688.9 332.4 A7.2 7.2 0 0 0 697.8 332.4" fill="none" stroke="#3d9ad8" stroke-width="0.9"/>
<path d="M687.6 319.6 A9.2 9.2 0 0 1 699 319.6" fill="none" stroke="#3d9ad8" stroke-width="0.9"/>
<path d="M687.6 334 A9.2 9.2 0 0 0 699 334" fill="none" stroke="#3d9ad8" stroke-width="0.9"/>
<text x="680" y="331" font-family='"Liberation Sans","Noto Sans CJK SC",sans-serif' font-size="15.5" fill="#111111" font-weight="bold" text-anchor="start" textLength="37" lengthAdjust="spacingAndGlyphs"  style="">LoRa</text>
<g transform="translate(751.6,395.4) scale(1)">
<path d="M12 1 C20 -1 24 2 26 4 L34 4 C38 4 40 7 40 11 L40 16 C40 20 37 22 34 22 L22 22 C18 26 12 26 9 24 C3 23 0 18 0 13 C0 6 5 2 12 1 Z" fill="#2f6fb4"/>
<rect x="21.5" y="6.5" width="16.5" height="13.5" rx="4.5" fill="#ffffff"/>
<text x="3" y="18.2" font-family='"Liberation Sans","Noto Sans CJK SC",sans-serif' font-size="13.5" font-weight="bold" fill="#ffffff" textLength="17" lengthAdjust="spacingAndGlyphs">Wi</text>
<text x="23.5" y="18.2" font-family='"Liberation Sans","Noto Sans CJK SC",sans-serif' font-size="13.5" font-weight="bold" fill="#2f6fb4" textLength="12.5" lengthAdjust="spacingAndGlyphs">Fi</text>
</g>
<g transform="translate(621.8,458) scale(1)">
<path d="M12 1 C20 -1 24 2 26 4 L34 4 C38 4 40 7 40 11 L40 16 C40 20 37 22 34 22 L22 22 C18 26 12 26 9 24 C3 23 0 18 0 13 C0 6 5 2 12 1 Z" fill="#2f6fb4"/>
<rect x="21.5" y="6.5" width="16.5" height="13.5" rx="4.5" fill="#ffffff"/>
<text x="3" y="18.2" font-family='"Liberation Sans","Noto Sans CJK SC",sans-serif' font-size="13.5" font-weight="bold" fill="#ffffff" textLength="17" lengthAdjust="spacingAndGlyphs">Wi</text>
<text x="23.5" y="18.2" font-family='"Liberation Sans","Noto Sans CJK SC",sans-serif' font-size="13.5" font-weight="bold" fill="#2f6fb4" textLength="12.5" lengthAdjust="spacingAndGlyphs">Fi</text>
</g>
<polygon points="530.3,528 556.2,543 556.2,548 530.3,533" fill="#1f4f8c" stroke="#0a0a0a" stroke-width="0.8" />
<polygon points="556.2,543 596.4,519.7 596.4,524.7 556.2,548" fill="#24599c" stroke="#0a0a0a" stroke-width="0.8" />
<polygon points="530.3,528 570.5,504.7 596.4,519.7 556.2,543" fill="#2f6db0" stroke="#0a0a0a" stroke-width="0.8" />
<polyline points="530.3,533 556.2,548 596.4,524.7" fill="none" stroke="#0a0a0a" stroke-width="0.8" stroke-linejoin="miter" />
<text x="550" y="530.5" font-family='"Liberation Sans","Noto Sans CJK SC",sans-serif' font-size="11.5" fill="#ffffff" font-weight="bold" text-anchor="start" textLength="13" lengthAdjust="spacingAndGlyphs"  style="">Wi</text>
<rect x="564" y="519.500" width="15.500" height="12.500" rx="4" fill="#ffffff"/>
<text x="566.2" y="530.5" font-family='"Liberation Sans","Noto Sans CJK SC",sans-serif' font-size="11.5" fill="#2f6db0" font-weight="bold" text-anchor="start" textLength="11" lengthAdjust="spacingAndGlyphs"  style="">Fi</text>
<circle cx="583.5" cy="539.6" r="1.6" fill="#2f6db0"/>
<path d="M594.5 534.5 A9.9 7.2 0 0 1 584 546.1" fill="none" stroke="#2f6db0" stroke-width="1.8"/>
<path d="M601.2 534.8 A17.6 12.8 0 0 1 584.3 550.4" fill="none" stroke="#2f6db0" stroke-width="1.8"/>
<path d="M607.9 535.1 A25.3 18.4 0 0 1 584.6 554.8" fill="none" stroke="#2f6db0" stroke-width="1.8"/>
<path d="M614.5 535.5 A33 24 0 0 1 585 559.1" fill="none" stroke="#2f6db0" stroke-width="1.8"/>
<g transform="matrix(0.9,-0.5,0.9,0.5,722,527.5)">
<text x="0" y="0" font-family='"Liberation Serif","Noto Serif CJK SC",serif' font-size="19.5" font-weight="500" font-style="italic" fill="#1a1a1a" textLength="160" lengthAdjust="spacingAndGlyphs">院校领域应用方案</text>
</g>
<g transform="matrix(0.9,-0.5,0.9,0.5,405,713)">
<text x="0" y="0" font-family='"Liberation Serif","Noto Serif CJK SC",serif' font-size="19.5" font-weight="500" font-style="italic" fill="#1a1a1a" textLength="168" lengthAdjust="spacingAndGlyphs">广电领域应用方案</text>
</g>
<g transform="matrix(1,-0.6,0,1,281.9,492.1)">
<rect x="0" y="0" width="87.2" height="19.5" fill="url(#darkG)"/>
<rect x="0" y="19.5" width="87.2" height="10.5" fill="url(#hazL)"/>
<rect x="0" y="0" width="87.2" height="45.2" fill="none" stroke="#e8952b" stroke-width="3"/>
<text x="43.6" y="20" font-family='"Liberation Sans","Noto Sans CJK SC",sans-serif' font-size="16" fill="#ffffff" text-anchor="middle" textLength="64" lengthAdjust="spacingAndGlyphs">演播室机房</text>
</g>
<polygon points="288.9,537.6 312.4,551.2 312.4,556.7 288.9,543.1" fill="#a9a9a9" stroke="#777" stroke-width="0.6" />
<polygon points="312.4,551.2 357.7,525 357.7,530.5 312.4,556.7" fill="#f2f2f2" stroke="#777" stroke-width="0.6" />
<polygon points="288.9,537.6 334.2,511.3 357.7,525 312.4,551.2" fill="#dcdcdc" stroke="#777" stroke-width="0.6" />
<polyline points="313.9,551.6 356.2,527" fill="none" stroke="#e2352b" stroke-width="0.9" stroke-linejoin="miter" />
<polyline points="313.9,553.2 356.2,528.6" fill="none" stroke="#e2352b" stroke-width="0.9" stroke-linejoin="miter" />
<polyline points="313.9,554.8 356.2,530.2" fill="none" stroke="#e2352b" stroke-width="0.9" stroke-linejoin="miter" />
<polyline points="335,538.1 335,543.6" fill="none" stroke="#f2f2f2" stroke-width="1" stroke-linejoin="miter" />
<g transform="matrix(0.9,-0.5,0.9,0.5,303.9,540.1)">
<text x="7" y="0" font-family='"Liberation Serif","Noto Serif CJK SC",serif' font-size="8.8" font-weight="bold" fill="#1c1c1c" textLength="17" lengthAdjust="spacingAndGlyphs">传统</text>
<text x="-4" y="9.6" font-family='"Liberation Serif","Noto Serif CJK SC",serif' font-size="8.8" font-weight="bold" fill="#1c1c1c" textLength="39" lengthAdjust="spacingAndGlyphs">音视频设备</text>
</g>
<polygon points="324,566 333,571.2 333,578.2 324,573" fill="#8d8d8d" stroke="#666" stroke-width="0.5" />
<polygon points="333,571.2 354,559 354,566 333,578.2" fill="#a9a9a9" stroke="#666" stroke-width="0.5" />
<polygon points="324,566 345,553.8 354,559 333,571.2" fill="#c4c4c4" stroke="#666" stroke-width="0.5" />
<ellipse cx="326.5" cy="572.5" rx="3.4" ry="3.8" fill="#f4f4f4" stroke="#777" stroke-width="0.6"/>
<g transform="matrix(0.9,-0.5,0.9,0.5,322,562)">
<text x="0" y="0" font-family='"Liberation Serif","Noto Serif CJK SC",serif' font-size="7.5" font-weight="bold" fill="#222" textLength="30" lengthAdjust="spacingAndGlyphs">录制设备</text>
</g>
<polygon points="377.3,487.8 386,482.4 406.5,494.4 397.9,499.7" fill="#3a3a3a" stroke="#111" stroke-width="0.5" />
<polyline points="396.2,482.8 394.2,488.8" fill="none" stroke="#222" stroke-width="2" stroke-linejoin="miter" />
<g transform="matrix(1,0.6,0,1,382.2,452.8)">
<rect x="0" y="0" width="33.5" height="25.5" fill="#1e4db3" stroke="#0b0b0b" stroke-width="1.6"/>
<text x="2.6" y="16" font-family='"Liberation Sans","Noto Sans CJK SC",sans-serif' font-size="9.5" fill="#ffffff" textLength="28.5" lengthAdjust="spacingAndGlyphs">20:59.46</text>
</g>
<ellipse cx="396" cy="548.5" rx="33.8" ry="18" fill="#ffffff" stroke="#2f6fb4" stroke-width="1.5"/>
<text x="396" y="547" font-family='"Liberation Serif","Noto Serif CJK SC",serif' font-size="8.6" fill="#2f6fb4" font-weight="normal" text-anchor="middle" textLength="36" lengthAdjust="spacingAndGlyphs"  style="">局域子网</text>
<text x="396" y="558" font-family='"Liberation Sans","Noto Sans CJK SC",sans-serif' font-size="9" fill="#2f6fb4" font-weight="normal" text-anchor="middle" textLength="15" lengthAdjust="spacingAndGlyphs"  style="">NTP</text>
<g transform="matrix(1,0.6,0,1,430.1,470.2)">
<rect x="0" y="0" width="50.6" height="40.2" fill="#d2d2d2" stroke="#9c9c9c" stroke-width="0.5"/>
<rect x="49.4" y="0" width="1.2" height="40.2" fill="#9a9a9a"/>
<rect x="2.2" y="2.2" width="46.2" height="35.8" fill="#060606"/>
<text x="8.1" y="11.1" font-family='"Liberation Serif","Noto Serif CJK SC",serif' font-weight="bold" font-size="5.8" fill="#f4f4f4" textLength="8.6" lengthAdjust="spacingAndGlyphs">开播</text>
<text transform="translate(21.8,11.5) skewX(-9)" font-family='"DejaVu Sans Light","DejaVu Sans","Liberation Sans",sans-serif' font-weight="200" font-size="8.5" fill="#cdbd48" textLength="16.2" lengthAdjust="spacingAndGlyphs">21:30</text>
<text transform="translate(39.5,11.3) skewX(-9)" font-family='"DejaVu Sans Light","DejaVu Sans","Liberation Sans",sans-serif' font-weight="200" font-size="5.1" fill="#cdbd48" textLength="5.1" lengthAdjust="spacingAndGlyphs">00</text>
<text transform="translate(5.2,26.3) skewX(-9)" font-family='"DejaVu Sans Light","DejaVu Sans","Liberation Sans",sans-serif' font-weight="200" font-size="15.2" fill="#35b777" textLength="28.3" lengthAdjust="spacingAndGlyphs">20:59</text>
<text transform="translate(35.2,26.1) skewX(-9)" font-family='"DejaVu Sans Light","DejaVu Sans","Liberation Sans",sans-serif' font-weight="200" font-size="13" fill="#35b777" textLength="10.1" lengthAdjust="spacingAndGlyphs">46</text>
<text x="8.1" y="35.2" font-family='"Liberation Serif","Noto Serif CJK SC",serif' font-weight="bold" font-size="5.8" fill="#f4f4f4" textLength="8.6" lengthAdjust="spacingAndGlyphs">计时</text>
<text transform="translate(20.8,35.6) skewX(-9)" font-family='"DejaVu Sans Light","DejaVu Sans","Liberation Sans",sans-serif' font-weight="200" font-size="8.5" fill="#d8382f" textLength="17.2" lengthAdjust="spacingAndGlyphs">00:30</text>
<text transform="translate(41,35.2) skewX(-9)" font-family='"DejaVu Sans Light","DejaVu Sans","Liberation Sans",sans-serif' font-weight="200" font-size="5.1" fill="#d8382f" textLength="4" lengthAdjust="spacingAndGlyphs">14</text>
</g>
<polygon points="412.4,627.7 529,559 529,554 412.4,622.7" fill="#d9d9d9" />
<polygon points="412.4,627.7 529,559 529,590 412.4,658.7" fill="url(#labelG)" />
<g transform="matrix(1,-0.6,0,1,412.4,627.7)">
<text x="26" y="23" font-family='"Liberation Serif","Noto Serif CJK SC",serif' font-size="18.5" font-weight="bold" font-style="italic" fill="#ffffff" textLength="72" lengthAdjust="spacingAndGlyphs">2号演播室</text>
</g>
<g transform="matrix(1,-0.6,0,1,395,587.6)">
<rect x="0" y="0" width="48.5" height="39" fill="#d2d2d2" stroke="#9c9c9c" stroke-width="0.5"/>
<rect x="0" y="0" width="1.2" height="39" fill="#9a9a9a"/>
<rect x="2.2" y="2.2" width="44.1" height="34.6" fill="#060606"/>
<text x="7.8" y="10.7" font-family='"Liberation Serif","Noto Serif CJK SC",serif' font-weight="bold" font-size="5.7" fill="#f4f4f4" textLength="8.2" lengthAdjust="spacingAndGlyphs">开播</text>
<text transform="translate(20.9,11.1) skewX(-9)" font-family='"DejaVu Sans Light","DejaVu Sans","Liberation Sans",sans-serif' font-weight="200" font-size="8.2" fill="#cdbd48" textLength="15.5" lengthAdjust="spacingAndGlyphs">21:30</text>
<text transform="translate(37.9,10.9) skewX(-9)" font-family='"DejaVu Sans Light","DejaVu Sans","Liberation Sans",sans-serif' font-weight="200" font-size="5" fill="#cdbd48" textLength="4.9" lengthAdjust="spacingAndGlyphs">00</text>
<text transform="translate(5,25.5) skewX(-9)" font-family='"DejaVu Sans Light","DejaVu Sans","Liberation Sans",sans-serif' font-weight="200" font-size="14.7" fill="#35b777" textLength="27.2" lengthAdjust="spacingAndGlyphs">20:59</text>
<text transform="translate(33.8,25.4) skewX(-9)" font-family='"DejaVu Sans Light","DejaVu Sans","Liberation Sans",sans-serif' font-weight="200" font-size="12.6" fill="#35b777" textLength="9.7" lengthAdjust="spacingAndGlyphs">46</text>
<text x="7.8" y="34.1" font-family='"Liberation Serif","Noto Serif CJK SC",serif' font-weight="bold" font-size="5.7" fill="#f4f4f4" textLength="8.2" lengthAdjust="spacingAndGlyphs">计时</text>
<text transform="translate(19.9,34.5) skewX(-9)" font-family='"DejaVu Sans Light","DejaVu Sans","Liberation Sans",sans-serif' font-weight="200" font-size="8.2" fill="#d8382f" textLength="16.5" lengthAdjust="spacingAndGlyphs">00:30</text>
<text transform="translate(39.3,34.1) skewX(-9)" font-family='"DejaVu Sans Light","DejaVu Sans","Liberation Sans",sans-serif' font-weight="200" font-size="5" fill="#d8382f" textLength="3.9" lengthAdjust="spacingAndGlyphs">14</text>
</g>
<g transform="matrix(1,-0.6,0,1,457.8,555.2)">
<rect x="0" y="0" width="32.4" height="36" fill="#d2d2d2" stroke="#9c9c9c" stroke-width="0.5"/>
<rect x="0" y="0" width="1.2" height="36" fill="#9a9a9a"/>
<rect x="2.2" y="2.2" width="28" height="31.6" fill="#060606"/>
<circle cx="16.2" cy="18" r="11.7" fill="none" stroke="#c23a32" stroke-width="0.9" stroke-dasharray="0.7 1.3"/>
<text transform="translate(9.2,19.4) skewX(-9)" font-family='"DejaVu Sans Light","DejaVu Sans","Liberation Sans",sans-serif' font-weight="200" font-size="7.1" fill="#d8382f" textLength="14.9" lengthAdjust="spacingAndGlyphs">20:59</text>
<text transform="translate(14.5,24.5) skewX(-9)" font-family='"DejaVu Sans Light","DejaVu Sans","Liberation Sans",sans-serif' font-weight="200" font-size="4.6" fill="#d8382f" textLength="4.2" lengthAdjust="spacingAndGlyphs">46</text>
</g>
<g transform="matrix(1,-0.6,0,1,145.8,567.3)">
<rect x="0" y="0" width="82.3" height="20" fill="url(#darkG)"/>
<rect x="0" y="20" width="82.3" height="11" fill="url(#hazL)"/>
<rect x="0" y="0" width="82.3" height="47.7" fill="none" stroke="#e8952b" stroke-width="3"/>
<text x="41.1" y="20.5" font-family='"Liberation Sans","Noto Sans CJK SC",sans-serif' font-size="16" fill="#ffffff" text-anchor="middle" textLength="62" lengthAdjust="spacingAndGlyphs">演播室机房</text>
</g>
<polygon points="164.4,611.5 191.4,627.2 191.4,636.2 164.4,620.5" fill="#1a1311" stroke="#0c0c0c" stroke-width="0.6" />
<polygon points="191.4,627.2 230.9,604.2 230.9,613.2 191.4,636.2" fill="#3a302c" stroke="#0c0c0c" stroke-width="0.6" />
<polygon points="164.4,611.5 203.9,588.6 230.9,604.2 191.4,627.2" fill="#2a1f1c" stroke="#0c0c0c" stroke-width="0.6" />
<polyline points="192.9,628.5 229.4,607.3" fill="none" stroke="#e8e8e8" stroke-width="0.9" stroke-linejoin="miter" stroke-dasharray="2.2 0.9"/>
<polyline points="192.9,631.1 229.4,609.9" fill="none" stroke="#e8e8e8" stroke-width="0.9" stroke-linejoin="miter" stroke-dasharray="2.2 0.9"/>
<polyline points="192.9,633.7 229.4,612.5" fill="none" stroke="#e8e8e8" stroke-width="0.9" stroke-linejoin="miter" stroke-dasharray="2.2 0.9"/>
<polyline points="164.4,616 191.4,631.7 230.9,608.8" fill="none" stroke="#d8d8d8" stroke-width="0.7" stroke-linejoin="miter" />
<g transform="matrix(0.9,-0.5,0.9,0.5,180.9,614.7)">
<text x="0" y="0" font-family='"Liberation Serif","Noto Serif CJK SC",serif' font-size="9.8" font-weight="bold" fill="#e6dfdb" textLength="31" lengthAdjust="spacingAndGlyphs">4K高清</text>
<text x="-2" y="10.4" font-family='"Liberation Serif","Noto Serif CJK SC",serif' font-size="9.8" font-weight="bold" fill="#e6dfdb" textLength="38" lengthAdjust="spacingAndGlyphs">演播设备</text>
</g>
<polygon points="123,643 132,648.2 132,655.2 123,650" fill="#8d8d8d" stroke="#666" stroke-width="0.5" />
<polygon points="132,648.2 153,636 153,643 132,655.2" fill="#a9a9a9" stroke="#666" stroke-width="0.5" />
<polygon points="123,643 144,630.8 153,636 132,648.2" fill="#c4c4c4" stroke="#666" stroke-width="0.5" />
<ellipse cx="125.5" cy="649.5" rx="3.4" ry="3.8" fill="#f4f4f4" stroke="#777" stroke-width="0.6"/>
<g transform="matrix(0.9,-0.5,0.9,0.5,119,641)">
<text x="0" y="0" font-family='"Liberation Serif","Noto Serif CJK SC",serif' font-size="7.5" font-weight="bold" fill="#222" textLength="30" lengthAdjust="spacingAndGlyphs">录制设备</text>
</g>
<polygon points="241.7,573.4 250.4,568 270.9,580 262.3,585.3" fill="#3a3a3a" stroke="#111" stroke-width="0.5" />
<polyline points="260.6,568.4 258.6,574.4" fill="none" stroke="#222" stroke-width="2" stroke-linejoin="miter" />
<g transform="matrix(1,0.6,0,1,246.6,538.4)">
<rect x="0" y="0" width="33.5" height="25.5" fill="#1e4db3" stroke="#0b0b0b" stroke-width="1.6"/>
<text x="2.6" y="16" font-family='"Liberation Sans","Noto Sans CJK SC",sans-serif' font-size="9.5" fill="#ffffff" textLength="28.5" lengthAdjust="spacingAndGlyphs">20:59.46</text>
</g>
<ellipse cx="261.6" cy="632.2" rx="33.7" ry="20" fill="#ffffff" stroke="#2f6fb4" stroke-width="1.5"/>
<text x="261.6" y="630.7" font-family='"Liberation Serif","Noto Serif CJK SC",serif' font-size="8.6" fill="#2f6fb4" font-weight="normal" text-anchor="middle" textLength="36" lengthAdjust="spacingAndGlyphs"  style="">局域子网</text>
<text x="261.6" y="641.7" font-family='"Liberation Sans","Noto Sans CJK SC",sans-serif' font-size="9" fill="#2f6fb4" font-weight="normal" text-anchor="middle" textLength="15" lengthAdjust="spacingAndGlyphs"  style="">NTP</text>
<g transform="matrix(1,0.6,0,1,287.5,561.4)">
<rect x="0" y="0" width="50.6" height="41" fill="#d2d2d2" stroke="#9c9c9c" stroke-width="0.5"/>
<rect x="49.4" y="0" width="1.2" height="41" fill="#9a9a9a"/>
<rect x="2.2" y="2.2" width="46.2" height="36.6" fill="#060606"/>
<text x="8.1" y="11.3" font-family='"Liberation Serif","Noto Serif CJK SC",serif' font-weight="bold" font-size="5.9" fill="#f4f4f4" textLength="8.6" lengthAdjust="spacingAndGlyphs">开播</text>
<text transform="translate(21.8,11.7) skewX(-9)" font-family='"DejaVu Sans Light","DejaVu Sans","Liberation Sans",sans-serif' font-weight="200" font-size="8.6" fill="#d8382f" textLength="16.2" lengthAdjust="spacingAndGlyphs">19:30</text>
<text transform="translate(39.5,11.5) skewX(-9)" font-family='"DejaVu Sans Light","DejaVu Sans","Liberation Sans",sans-serif' font-weight="200" font-size="5.2" fill="#d8382f" textLength="5.1" lengthAdjust="spacingAndGlyphs">00</text>
<text transform="translate(5.2,26.9) skewX(-9)" font-family='"DejaVu Sans Light","DejaVu Sans","Liberation Sans",sans-serif' font-weight="200" font-size="15.5" fill="#35b777" textLength="28.3" lengthAdjust="spacingAndGlyphs">20:59</text>
<text transform="translate(35.2,26.7) skewX(-9)" font-family='"DejaVu Sans Light","DejaVu Sans","Liberation Sans",sans-serif' font-weight="200" font-size="13.3" fill="#35b777" textLength="10.1" lengthAdjust="spacingAndGlyphs">46</text>
<text x="8.1" y="35.9" font-family='"Liberation Serif","Noto Serif CJK SC",serif' font-weight="bold" font-size="5.9" fill="#f4f4f4" textLength="8.6" lengthAdjust="spacingAndGlyphs">计时</text>
<text transform="translate(20.8,36.3) skewX(-9)" font-family='"DejaVu Sans Light","DejaVu Sans","Liberation Sans",sans-serif' font-weight="200" font-size="8.6" fill="#cdbd48" textLength="17.2" lengthAdjust="spacingAndGlyphs">01:29</text>
<text transform="translate(41.1,35.9) skewX(-9)" font-family='"DejaVu Sans Light","DejaVu Sans","Liberation Sans",sans-serif' font-weight="200" font-size="5.2" fill="#cdbd48" textLength="4" lengthAdjust="spacingAndGlyphs">46</text>
</g>
<polygon points="279.7,699.5 396.3,636.3 396.3,631.3 279.7,694.5" fill="#d9d9d9" />
<polygon points="279.7,699.5 396.3,636.3 396.3,669.4 279.7,732.5" fill="url(#labelG)" />
<g transform="matrix(1,-0.6,0,1,279.7,699.5)">
<text x="26" y="24" font-family='"Liberation Serif","Noto Serif CJK SC",serif' font-size="18.5" font-weight="bold" font-style="italic" fill="#ffffff" textLength="72" lengthAdjust="spacingAndGlyphs">1号演播室</text>
</g>
<g transform="matrix(1,-0.6,0,1,150.1,692)">
<rect x="0" y="0" width="84.2" height="61.5" fill="#d2d2d2" stroke="#9c9c9c" stroke-width="0.5"/>
<rect x="0" y="0" width="1.6" height="61.5" fill="#9a9a9a"/>
<rect x="2.9" y="2.9" width="78.4" height="55.7" fill="#060606"/>
<text x="13.5" y="16.9" font-family='"Liberation Serif","Noto Serif CJK SC",serif' font-weight="bold" font-size="8.9" fill="#f4f4f4" textLength="14.3" lengthAdjust="spacingAndGlyphs">开播</text>
<text transform="translate(36.2,17.5) skewX(-9)" font-family='"DejaVu Sans Light","DejaVu Sans","Liberation Sans",sans-serif' font-weight="200" font-size="13" fill="#d8382f" textLength="26.9" lengthAdjust="spacingAndGlyphs">19:30</text>
<text transform="translate(65.7,17.2) skewX(-9)" font-family='"DejaVu Sans Light","DejaVu Sans","Liberation Sans",sans-serif' font-weight="200" font-size="7.8" fill="#d8382f" textLength="8.4" lengthAdjust="spacingAndGlyphs">00</text>
<text transform="translate(8.6,40.3) skewX(-9)" font-family='"DejaVu Sans Light","DejaVu Sans","Liberation Sans",sans-serif' font-weight="200" font-size="23.2" fill="#35b777" textLength="47.2" lengthAdjust="spacingAndGlyphs">20:59</text>
<text transform="translate(58.5,40) skewX(-9)" font-family='"DejaVu Sans Light","DejaVu Sans","Liberation Sans",sans-serif' font-weight="200" font-size="19.9" fill="#35b777" textLength="16.8" lengthAdjust="spacingAndGlyphs">46</text>
<text x="13.5" y="53.8" font-family='"Liberation Serif","Noto Serif CJK SC",serif' font-weight="bold" font-size="8.9" fill="#f4f4f4" textLength="14.3" lengthAdjust="spacingAndGlyphs">计时</text>
<text transform="translate(34.5,54.4) skewX(-9)" font-family='"DejaVu Sans Light","DejaVu Sans","Liberation Sans",sans-serif' font-weight="200" font-size="13" fill="#cdbd48" textLength="28.6" lengthAdjust="spacingAndGlyphs">01:29</text>
<text transform="translate(68.3,53.8) skewX(-9)" font-family='"DejaVu Sans Light","DejaVu Sans","Liberation Sans",sans-serif' font-weight="200" font-size="7.8" fill="#cdbd48" textLength="6.7" lengthAdjust="spacingAndGlyphs">46</text>
</g>
<g transform="matrix(1,-0.6,0,1,247.3,682.3)">
<rect x="0" y="0" width="60.2" height="28.5" fill="#d2d2d2" stroke="#9c9c9c" stroke-width="0.5"/>
<rect x="0" y="0" width="1.2" height="28.5" fill="#9a9a9a"/>
<rect x="2.2" y="2.2" width="55.8" height="24.1" fill="#060606"/>
<text transform="translate(10.9,14.2) skewX(-9)" font-family='"DejaVu Sans Light","DejaVu Sans","Liberation Sans",sans-serif' font-weight="200" font-size="10.5" fill="#d8382f" textLength="26.5" lengthAdjust="spacingAndGlyphs">20:59</text>
<text transform="translate(42.1,13.4) skewX(-9)" font-family='"DejaVu Sans Light","DejaVu Sans","Liberation Sans",sans-serif' font-weight="200" font-size="8.7" fill="#d8382f" textLength="7.8" lengthAdjust="spacingAndGlyphs">46</text>
<text transform="translate(4.7,25.1) skewX(-9)" font-family='"DejaVu Sans Light","DejaVu Sans","Liberation Sans",sans-serif' font-weight="200" font-size="7.3" fill="#d8382f" textLength="15.7" lengthAdjust="spacingAndGlyphs">2019</text>
<text x="21.7" y="24.8" font-family='"Liberation Sans","Noto Sans CJK SC",sans-serif' font-size="4.8" fill="#cfcfcf">年</text>
<text transform="translate(27.5,25.1) skewX(-9)" font-family='"DejaVu Sans Light","DejaVu Sans","Liberation Sans",sans-serif' font-weight="200" font-size="7.3" fill="#d8382f" textLength="9" lengthAdjust="spacingAndGlyphs">08</text>
<text x="37.3" y="24.8" font-family='"Liberation Sans","Noto Sans CJK SC",sans-serif' font-size="4.8" fill="#cfcfcf">月</text>
<text transform="translate(42,25.1) skewX(-9)" font-family='"DejaVu Sans Light","DejaVu Sans","Liberation Sans",sans-serif' font-weight="200" font-size="7.3" fill="#d8382f" textLength="8.4" lengthAdjust="spacingAndGlyphs">06</text>
<text x="51.8" y="24.8" font-family='"Liberation Sans","Noto Sans CJK SC",sans-serif' font-size="4.8" fill="#cfcfcf">日</text>
</g>
<g transform="matrix(1,-0.6,0,1,317.9,643.4)">
<rect x="0" y="0" width="50.2" height="24" fill="#d2d2d2" stroke="#9c9c9c" stroke-width="0.5"/>
<rect x="0" y="0" width="1.2" height="24" fill="#9a9a9a"/>
<rect x="2.2" y="2.2" width="45.8" height="19.6" fill="#060606"/>
<text transform="translate(7.7,16.8) skewX(-9)" font-family='"DejaVu Sans Light","DejaVu Sans","Liberation Sans",sans-serif' font-weight="200" font-size="10.6" fill="#d8382f" textLength="25.1" lengthAdjust="spacingAndGlyphs">20:59</text>
<text transform="translate(36.6,15.4) skewX(-9)" font-family='"DejaVu Sans Light","DejaVu Sans","Liberation Sans",sans-serif' font-weight="200" font-size="7.3" fill="#d8382f" textLength="7" lengthAdjust="spacingAndGlyphs">46</text>
</g>
<g transform="matrix(1,-0.6,0,1,29.4,384.2)">
<rect x="0" y="0" width="81.8" height="59.5" fill="#d2d2d2" stroke="#9c9c9c" stroke-width="0.5"/>
<rect x="0" y="0" width="1.6" height="59.5" fill="#9a9a9a"/>
<rect x="2.9" y="2.9" width="76" height="53.7" fill="#060606"/>
<text x="13.1" y="16.4" font-family='"Liberation Serif","Noto Serif CJK SC",serif' font-weight="bold" font-size="8.6" fill="#f4f4f4" textLength="13.9" lengthAdjust="spacingAndGlyphs">开播</text>
<text transform="translate(35.1,17) skewX(-9)" font-family='"DejaVu Sans Light","DejaVu Sans","Liberation Sans",sans-serif' font-weight="200" font-size="12.5" fill="#d8382f" textLength="26.2" lengthAdjust="spacingAndGlyphs">19:30</text>
<text transform="translate(63.9,16.7) skewX(-9)" font-family='"DejaVu Sans Light","DejaVu Sans","Liberation Sans",sans-serif' font-weight="200" font-size="7.6" fill="#d8382f" textLength="8.2" lengthAdjust="spacingAndGlyphs">00</text>
<text transform="translate(8.3,39) skewX(-9)" font-family='"DejaVu Sans Light","DejaVu Sans","Liberation Sans",sans-serif' font-weight="200" font-size="22.4" fill="#35b777" textLength="45.8" lengthAdjust="spacingAndGlyphs">20:59</text>
<text transform="translate(56.8,38.7) skewX(-9)" font-family='"DejaVu Sans Light","DejaVu Sans","Liberation Sans",sans-serif' font-weight="200" font-size="19.2" fill="#35b777" textLength="16.4" lengthAdjust="spacingAndGlyphs">46</text>
<text x="13.1" y="52.1" font-family='"Liberation Serif","Noto Serif CJK SC",serif' font-weight="bold" font-size="8.6" fill="#f4f4f4" textLength="13.9" lengthAdjust="spacingAndGlyphs">计时</text>
<text transform="translate(33.5,52.7) skewX(-9)" font-family='"DejaVu Sans Light","DejaVu Sans","Liberation Sans",sans-serif' font-weight="200" font-size="12.5" fill="#cdbd48" textLength="27.8" lengthAdjust="spacingAndGlyphs">01:29</text>
<text transform="translate(66.3,52.1) skewX(-9)" font-family='"DejaVu Sans Light","DejaVu Sans","Liberation Sans",sans-serif' font-weight="200" font-size="7.6" fill="#cdbd48" textLength="6.5" lengthAdjust="spacingAndGlyphs">46</text>
</g>
<g transform="translate(34.3,338) scale(1)">
<path d="M10 3 C14 -1 22 -1 26 3 L34 3 C39 3 42 7 42 12 C42 18 38 21 34 21 L18 21 C15 25 8 25 6 21 C2 20 0 16 0 12 C0 7 4 3 10 3 Z" fill="#2f6fb4"/>
<rect x="21" y="5" width="19.5" height="14.5" rx="5" fill="#ffffff"/>
<text x="3" y="17.3" font-family='"Liberation Sans","Noto Sans CJK SC",sans-serif' font-size="13" font-weight="bold" fill="#ffffff" textLength="17" lengthAdjust="spacingAndGlyphs">4G</text>
<text x="22.5" y="17.3" font-family='"Liberation Sans","Noto Sans CJK SC",sans-serif' font-size="13" font-weight="bold" fill="#2f6fb4" textLength="16.5" lengthAdjust="spacingAndGlyphs">5G</text>
</g>
<ellipse cx="123.2" cy="378.3" rx="2.6" ry="4.2" fill="#2f6fb4"/>
<path d="M120.5 357.5 A15.5 21 0 0 1 135.2 376.5" fill="none" stroke="#2f6fb4" stroke-width="3.4" stroke-linecap="round"/>
<path d="M120.5 347 A22 31.5 0 0 1 141.7 376.5" fill="none" stroke="#2f6fb4" stroke-width="3.4" stroke-linecap="round"/>
<path d="M120.5 335.5 A28.5 43 0 0 1 148.2 376.5" fill="none" stroke="#2f6fb4" stroke-width="3.4" stroke-linecap="round"/>
<path d="M165 256.5 C156 256.5 152.5 248 154 242 C155 236 159 233 163 232.5 C164 221 176 212 188 213 C194 213.5 198 216 200 219 L204 256.5 Z" fill="#4a98cb" stroke="#ffffff" stroke-width="2.4"/>
<path d="M199 260.5 C190 260.5 186.5 252 187 245 C187.5 236 193 230 200 229 C198 214 212 202 230 202 C240 202 248 206 253 212 C262 207 274 212 277 224 C286 226 289.5 236 289 244 C288.5 254 282 260.5 275 260.5 Z" fill="url(#cloudR)" stroke="#ffffff" stroke-width="2.6"/>
<text x="239.5" y="234.6" font-family='"Liberation Serif","Noto Serif CJK SC",serif' font-size="13.5" fill="#0d1a26" font-weight="bold" text-anchor="middle" textLength="57" lengthAdjust="spacingAndGlyphs"  style="">时钟系统</text>
<text x="239" y="252" font-family='"Liberation Serif","Noto Serif CJK SC",serif' font-size="13.5" fill="#0d1a26" font-weight="bold" text-anchor="middle" textLength="68" lengthAdjust="spacingAndGlyphs"  style="">云服务平台</text>
<text x="346" y="146" font-family='"Liberation Serif","Noto Serif CJK SC",serif' font-size="14" fill="#111111" font-weight="bold" text-anchor="middle" textLength="83" lengthAdjust="spacingAndGlyphs"  style="">时间同步源</text>
<text x="214" y="164.5" font-family='"Liberation Sans","Noto Sans CJK SC",sans-serif' font-size="11.5" fill="#4e9a3a" font-weight="300" text-anchor="start" textLength="101" lengthAdjust="spacingAndGlyphs"  style="">GPS/北斗卫星天线</text>
<path d="M323 164 C322 148 340 148 339 164 C337 168 325 168 323 164 Z" fill="#e6e6e6" stroke="#aaaaaa" stroke-width="0.8"/>
<text x="343" y="164.5" font-family='"Liberation Sans","Noto Sans CJK SC",sans-serif' font-size="11.5" fill="#444444" font-weight="normal" text-anchor="start" textLength="12" lengthAdjust="spacingAndGlyphs"  style="">或</text>
<text x="361" y="164.5" font-family='"Liberation Sans","Noto Sans CJK SC",sans-serif' font-size="11.5" fill="#3a7fc4" font-weight="300" text-anchor="start" textLength="72" lengthAdjust="spacingAndGlyphs"  style="">NTP 外网专线</text>
<path d="M198.8 277.5 A10.5 12.1 0 0 0 198.8 290.5" fill="none" stroke="#5a9bd5" stroke-width="2.6" stroke-linecap="round"/>
<path d="M217.2 277.5 A10.5 12.1 0 0 1 217.2 290.5" fill="none" stroke="#5a9bd5" stroke-width="2.6" stroke-linecap="round"/>
<path d="M193.5 273.8 A16.5 19 0 0 0 193.5 294.2" fill="none" stroke="#5a9bd5" stroke-width="3" stroke-linecap="round"/>
<path d="M222.5 273.8 A16.5 19 0 0 1 222.5 294.2" fill="none" stroke="#5a9bd5" stroke-width="3" stroke-linecap="round"/>
<ellipse cx="201.500" cy="284" rx="1.400" ry="2.200" fill="#5a9bd5"/><ellipse cx="214.500" cy="284" rx="1.400" ry="2.200" fill="#5a9bd5"/>
<path d="M208 284 L196 328 M208 284 L220 328 M208 284 L208 328 M203.500 300 L212.500 300 M200.500 312 L215.500 312 M203.500 300 L215.500 312 M212.500 300 L200.500 312 M200.500 312 L218 324 M215.500 312 L198 324" stroke="#8c8c8c" stroke-width="1.800" fill="none"/>
<circle cx="208" cy="283.500" r="2.300" fill="#b5b5b5" stroke="#777" stroke-width="0.600"/>
<ellipse cx="209" cy="352.500" rx="27" ry="3" fill="#d0d0d0"/>
<text x="185.500" y="354" font-family='"Liberation Sans","Noto Sans CJK SC",sans-serif' font-size="47" font-weight="bold" fill="#6b6b6b" textLength="50" lengthAdjust="spacingAndGlyphs">5G</text>
<text x="183" y="352.500" font-family='"Liberation Sans","Noto Sans CJK SC",sans-serif' font-size="47" font-weight="bold" fill="url(#metalG)" stroke="#8a8a8a" stroke-width="0.900" textLength="50" lengthAdjust="spacingAndGlyphs">5G</text>
<polyline points="632,573.5 687,573.5" fill="none" stroke="#d8281e" stroke-width="1.9" stroke-linejoin="miter" />
<polygon points="695.5,573.5 687.5,569.3 687.5,577.7" fill="#ffffff" stroke="#d8281e" stroke-width="1.4" />
<text x="702" y="577.5" font-family='"Liberation Sans","Noto Serif CJK SC",serif' font-size="10.2" fill="#231815" font-weight="normal" text-anchor="start" textLength="158" lengthAdjust="spacingAndGlyphs"  style="">SMPTE-EBU - 双绞线或音频多芯线</text>
<polyline points="632,591.5 687,591.5" fill="none" stroke="#2f86d0" stroke-width="1.9" stroke-linejoin="miter" />
<polygon points="695.5,591.5 687.5,587.3 687.5,595.7" fill="#ffffff" stroke="#2f86d0" stroke-width="1.4" />
<text x="702" y="595.5" font-family='"Liberation Sans","Noto Serif CJK SC",serif' font-size="10.2" fill="#231815" font-weight="normal" text-anchor="start" textLength="143" lengthAdjust="spacingAndGlyphs"  style="">局域网网线连接（RJ45 接口）</text>
<polyline points="632,607.5 687,607.5" fill="none" stroke="#2f9a3a" stroke-width="1.9" stroke-linejoin="miter" />
<polygon points="695.5,607.5 687.5,603.3 687.5,611.7" fill="#ffffff" stroke="#2f9a3a" stroke-width="1.4" />
<text x="702" y="611.5" font-family='"Liberation Sans","Noto Serif CJK SC",serif' font-size="10.2" fill="#231815" font-weight="normal" text-anchor="start" textLength="118" lengthAdjust="spacingAndGlyphs"  style="">低损耗同轴电缆（5DFB）</text>
<polyline points="632,623.5 687,623.5" fill="none" stroke="#1f3f9b" stroke-width="1.9" stroke-linejoin="miter" />
<polygon points="695.5,623.5 687.5,619.3 687.5,627.7" fill="#ffffff" stroke="#1f3f9b" stroke-width="1.4" />
<text x="702" y="627.5" font-family='"Liberation Sans","Noto Serif CJK SC",serif' font-size="10.2" fill="#231815" font-weight="normal" text-anchor="start" textLength="172" lengthAdjust="spacingAndGlyphs"  style="">PTPv2 / IEEE1588（SFP 或 RJ45 接口）</text>
<polygon points="291.2,920.7 289.8,913.7 298.3,905.3 309.5,902.5 317.9,908.1 326.3,905.3 347.4,899.7 368.4,891.3 369.8,884.2 376.9,881.4 374.1,856.2 396.5,857.6 400.7,851.9 412,836.5 426,842.1 434.4,839.3 435.8,829.5 451.3,819.7 458.3,818.3 457.5,822.5 466.7,837.9 476.5,844.9 479.4,860.4 475.1,874.4 482.2,882.8 501.8,889.9 515.9,901.1 522.9,923.5 533.9,925 545,934 571.9,940 590,946 606,949 624,938.5 645,935.5 665,924 680,921 697,915 712,893 735,880 722,868 708,858 716,840 737.3,818 740.3,801.7 741.5,787 748.8,779.8 761,773.7 780.5,774.9 792.8,784.6 796.4,796.8 805,806.6 819.6,818.8 826.9,820 840.3,828.6 848.9,838.3 858.7,834.7 870.9,826.1 879.4,821.3 878.2,828.6 870.9,853 875.7,862.8 870.9,872.5 858.7,877.4 856.2,887.2 861.1,899.4 852,930 848,946 827,959.7 812,952 799.5,963 785.7,973.5 770,985 758,978 752,990 765,998 782,1000 778.8,1005 768.4,1020.5 758,1039.5 762,1060 778.8,1079 792.6,1105 785.7,1129 782,1153.5 772,1167 758,1188 744,1202 727,1212 709.7,1219 699,1226 694,1232 668,1266 665,1280 655,1290 642,1293 637,1285 640,1270 645,1262 643,1232 630,1227 600,1226 575,1222 566.4,1219.7 549,1226.6 544,1233.5 535,1219.7 521.5,1216 525,1199 511,1192 506,1178 506,1150 503.8,1128.3 500,1122.6 494.3,1113.4 486,1117 478.7,1112.5 469.5,1119 461.3,1120.8 458.5,1124.5 447.5,1129 440.2,1124.5 430,1123.5 429.1,1119 418.1,1118 408,1126.3 407.1,1117.1 392.4,1115.3 385,1109.8 379.6,1110.7 353.9,1085.9 335.5,1062 330,1063 318.5,1053.5 309.6,1032 300,1010 306,985 301,960 294,946 296.8,932" fill="#dcdcdc" />
<polygon points="797,1175 801,1183 798,1198 789,1219 781,1219 780,1205 785,1188 791,1178" fill="#dcdcdc" />
<polyline points="522.9,923.5 527,927 532,942 520,960 500,975 480,1000 455,1010 430,1005 400,1012 370,1005 340,1010 310,1012" fill="none" stroke="#f6f6f6" stroke-width="1.6" stroke-linejoin="miter" stroke-linejoin="round"/>
<polyline points="480,1000 500,1020 530,1035 560,1050 585,1060 600,1080 590,1100 560,1110 530,1118 503.8,1128.3" fill="none" stroke="#f6f6f6" stroke-width="1.6" stroke-linejoin="miter" stroke-linejoin="round"/>
<polyline points="585.7,940.7 595,960 620,975 640,990 655,1010 640,1030 620,1050 600,1080" fill="none" stroke="#f6f6f6" stroke-width="1.6" stroke-linejoin="miter" stroke-linejoin="round"/>
<polyline points="532,942 560,955 590,975 610,990 600,1010 585,1030 585,1060" fill="none" stroke="#f6f6f6" stroke-width="1.6" stroke-linejoin="miter" stroke-linejoin="round"/>
<polyline points="672,926 690,945 700,965 690,985 670,990 655,1010" fill="none" stroke="#f6f6f6" stroke-width="1.6" stroke-linejoin="miter" stroke-linejoin="round"/>
<polyline points="700,965 720,975 740,985 752,990" fill="none" stroke="#f6f6f6" stroke-width="1.6" stroke-linejoin="miter" stroke-linejoin="round"/>
<polyline points="690,985 700,1010 695,1040 715,1055 740,1050 758,1039.5" fill="none" stroke="#f6f6f6" stroke-width="1.6" stroke-linejoin="miter" stroke-linejoin="round"/>
<polyline points="640,1030 660,1045 680,1040 695,1040" fill="none" stroke="#f6f6f6" stroke-width="1.6" stroke-linejoin="miter" stroke-linejoin="round"/>
<polyline points="620,1050 640,1075 660,1090 655,1115 640,1130 620,1140 600,1135 590,1100" fill="none" stroke="#f6f6f6" stroke-width="1.6" stroke-linejoin="miter" stroke-linejoin="round"/>
<polyline points="660,1090 690,1085 715,1055" fill="none" stroke="#f6f6f6" stroke-width="1.6" stroke-linejoin="miter" stroke-linejoin="round"/>
<polyline points="690,1085 700,1110 720,1120 740,1110 762,1060" fill="none" stroke="#f6f6f6" stroke-width="1.6" stroke-linejoin="miter" stroke-linejoin="round"/>
<polyline points="740,1110 760,1120 785.7,1129" fill="none" stroke="#f6f6f6" stroke-width="1.6" stroke-linejoin="miter" stroke-linejoin="round"/>
<polyline points="720,1120 725,1150 745,1170 772,1167" fill="none" stroke="#f6f6f6" stroke-width="1.6" stroke-linejoin="miter" stroke-linejoin="round"/>
<polyline points="655,1115 680,1130 700,1110" fill="none" stroke="#f6f6f6" stroke-width="1.6" stroke-linejoin="miter" stroke-linejoin="round"/>
<polyline points="680,1130 685,1160 705,1180 725,1150" fill="none" stroke="#f6f6f6" stroke-width="1.6" stroke-linejoin="miter" stroke-linejoin="round"/>
<polyline points="705,1180 700,1200 709.7,1219" fill="none" stroke="#f6f6f6" stroke-width="1.6" stroke-linejoin="miter" stroke-linejoin="round"/>
<polyline points="640,1130 650,1160 640,1190 660,1200 685,1160" fill="none" stroke="#f6f6f6" stroke-width="1.6" stroke-linejoin="miter" stroke-linejoin="round"/>
<polyline points="660,1200 665,1225 680,1238" fill="none" stroke="#f6f6f6" stroke-width="1.6" stroke-linejoin="miter" stroke-linejoin="round"/>
<polyline points="620,1140 615,1170 590,1185 600,1210 625,1220 640,1190" fill="none" stroke="#f6f6f6" stroke-width="1.6" stroke-linejoin="miter" stroke-linejoin="round"/>
<polyline points="600,1210 590,1248" fill="none" stroke="#f6f6f6" stroke-width="1.6" stroke-linejoin="miter" stroke-linejoin="round"/>
<polyline points="600,1135 570,1150 540,1170 518,1199.6" fill="none" stroke="#f6f6f6" stroke-width="1.6" stroke-linejoin="miter" stroke-linejoin="round"/>
<polyline points="570,1150 575,1190 590,1185" fill="none" stroke="#f6f6f6" stroke-width="1.6" stroke-linejoin="miter" stroke-linejoin="round"/>
<polyline points="735,880 750,895 770,900 790,890 805,870 813.3,821.5" fill="none" stroke="#f6f6f6" stroke-width="1.6" stroke-linejoin="miter" stroke-linejoin="round"/>
<polyline points="770,900 775,925 800,940 812,952" fill="none" stroke="#f6f6f6" stroke-width="1.6" stroke-linejoin="miter" stroke-linejoin="round"/>
<polyline points="800,940 830,920 860,901" fill="none" stroke="#f6f6f6" stroke-width="1.6" stroke-linejoin="miter" stroke-linejoin="round"/>
<polyline points="830,920 827,959.7" fill="none" stroke="#f6f6f6" stroke-width="1.6" stroke-linejoin="miter" stroke-linejoin="round"/>
<rect x="32.5" y="790" width="230" height="31.5" fill="#d7141a"/>
<rect x="262" y="802" width="426" height="4.6" fill="#e60012"/>
<text x="40" y="815.5" font-family='"Liberation Serif","Noto Serif CJK SC",serif' font-size="25" fill="#ffffff" font-weight="500" text-anchor="start" textLength="215" lengthAdjust="spacingAndGlyphs"  style="">多种设置管理模式</text>
<rect x="32.5" y="1039" width="202.5" height="32" fill="#d7141a"/>
<rect x="235" y="1052" width="81" height="4.6" fill="#e60012"/>
<text x="40" y="1065" font-family='"Liberation Serif","Noto Serif CJK SC",serif' font-size="25" fill="#ffffff" font-weight="500" text-anchor="start" textLength="188" lengthAdjust="spacingAndGlyphs"  style="">多样的通讯方式</text>
<circle cx="63" cy="857" r="3" fill="#d7141a"/>
<text x="75" y="864.5" font-family='"Liberation Serif","Noto Serif CJK SC",serif' font-size="22.5" fill="#231815" font-weight="500" text-anchor="start" textLength="145" lengthAdjust="spacingAndGlyphs"  style="">手动按键设置</text>
<circle cx="63" cy="890" r="3" fill="#d7141a"/>
<text x="75" y="897.5" font-family='"Liberation Serif","Noto Serif CJK SC",serif' font-size="22.5" fill="#231815" font-weight="500" text-anchor="start" textLength="218" lengthAdjust="spacingAndGlyphs"  style="">本地或远程网页设置</text>
<circle cx="63" cy="921.5" r="3" fill="#d7141a"/>
<text x="75" y="929" font-family='"Liberation Serif","Noto Serif CJK SC",serif' font-size="22.5" fill="#231815" font-weight="500" text-anchor="start" textLength="182" lengthAdjust="spacingAndGlyphs"  style="">软件分组设置管理</text>
<circle cx="63" cy="955" r="3" fill="#d7141a"/>
<text x="75" y="962.5" font-family='"Liberation Serif","Noto Serif CJK SC",serif' font-size="22.5" fill="#231815" font-weight="500" text-anchor="start" textLength="206" lengthAdjust="spacingAndGlyphs"  style="">云服务平台设置管理</text>
<text x="62" y="994.5" font-family='"Liberation Serif","Noto Serif CJK SC",serif' font-size="22.5" fill="#231815" font-weight="500" text-anchor="start" textLength="16" lengthAdjust="spacingAndGlyphs"  style="">（</text>
<text x="84" y="994.5" font-family='"Liberation Serif","Noto Serif CJK SC",serif' font-size="22.5" fill="#231815" font-weight="500" text-anchor="start" textLength="114" lengthAdjust="spacingAndGlyphs"  style="">网页或移动</text>
<text x="202" y="995" font-family='"Liberation Sans","Noto Sans CJK SC",sans-serif' font-size="25.5" fill="#231815" textLength="28" lengthAdjust="spacingAndGlyphs">APP</text>
<text x="238.5" y="994.5" font-family='"Liberation Serif","Noto Serif CJK SC",serif' font-size="22.5" fill="#231815" font-weight="500" text-anchor="start" textLength="43" lengthAdjust="spacingAndGlyphs"  style="">登陆</text>
<text x="283" y="994.5" font-family='"Liberation Serif","Noto Serif CJK SC",serif' font-size="22.5" fill="#231815" font-weight="500" text-anchor="start" textLength="16" lengthAdjust="spacingAndGlyphs"  style="">）</text>
<circle cx="63" cy="1107" r="3" fill="#d7141a"/>
<text x="75" y="1114.5" font-family='"Liberation Serif","Noto Serif CJK SC",serif' font-size="22.5" fill="#231815" font-weight="500" text-anchor="start" textLength="197" lengthAdjust="spacingAndGlyphs"  style="">有线局域网络通讯</text>
<circle cx="63" cy="1138.5" r="3" fill="#d7141a"/>
<text x="75" y="1146" font-family='"Liberation Serif","Noto Serif CJK SC",serif' font-size="22.5" fill="#231815" font-weight="500" text-anchor="start" textLength="197" lengthAdjust="spacingAndGlyphs"  style="">无线局域网络通讯</text>
<text x="274" y="1146" font-family='"Liberation Serif","Noto Serif CJK SC",serif' font-size="22.5" fill="#231815" font-weight="500" text-anchor="start" textLength="22" lengthAdjust="spacingAndGlyphs"  style="">（</text>
<text x="297" y="1146.5" font-family='"Liberation Sans","Noto Sans CJK SC",sans-serif' font-size="25.5" fill="#231815" textLength="38" lengthAdjust="spacingAndGlyphs">WiFi</text>
<text x="336" y="1146" font-family='"Liberation Serif","Noto Serif CJK SC",serif' font-size="22.5" fill="#231815" font-weight="500" text-anchor="start" textLength="14" lengthAdjust="spacingAndGlyphs"  style="">）</text>
<circle cx="63" cy="1171" r="3" fill="#d7141a"/>
<text x="75" y="1178.5" font-family='"Liberation Serif","Noto Serif CJK SC",serif' font-size="22.5" fill="#231815" font-weight="500" text-anchor="start" textLength="231" lengthAdjust="spacingAndGlyphs"  style="">窄带无线广域网络通讯</text>
<text x="308" y="1178.5" font-family='"Liberation Serif","Noto Serif CJK SC",serif' font-size="22.5" fill="#231815" font-weight="500" text-anchor="start" textLength="22" lengthAdjust="spacingAndGlyphs"  style="">（</text>
<text x="332" y="1179" font-family='"Liberation Sans","Noto Sans CJK SC",sans-serif' font-size="25.5" fill="#231815" textLength="38" lengthAdjust="spacingAndGlyphs">LoRa</text>
<text x="370" y="1178.5" font-family='"Liberation Serif","Noto Serif CJK SC",serif' font-size="22.5" fill="#231815" font-weight="500" text-anchor="start" textLength="14" lengthAdjust="spacingAndGlyphs"  style="">）</text>
<circle cx="63" cy="1203.5" r="3" fill="#d7141a"/>
<text x="75" y="1211" font-family='"Liberation Serif","Noto Serif CJK SC",serif' font-size="22.5" fill="#231815" font-weight="500" text-anchor="start" textLength="231" lengthAdjust="spacingAndGlyphs"  style="">宽带无线广域网络通讯</text>
<text x="308" y="1211" font-family='"Liberation Serif","Noto Serif CJK SC",serif' font-size="22.5" fill="#231815" font-weight="500" text-anchor="start" textLength="22" lengthAdjust="spacingAndGlyphs"  style="">（</text>
<text x="332" y="1211.5" font-family='"Liberation Sans","Noto Sans CJK SC",sans-serif' font-size="25.5" fill="#231815" textLength="65" lengthAdjust="spacingAndGlyphs">4G/5G</text>
<text x="399" y="1211" font-family='"Liberation Serif","Noto Serif CJK SC",serif' font-size="22.5" fill="#231815" font-weight="500" text-anchor="start" textLength="16" lengthAdjust="spacingAndGlyphs"  style="">）</text>
<text x="64" y="1244" font-family='"Liberation Serif","Noto Serif CJK SC",serif' font-size="22.5" fill="#231815" font-weight="500" text-anchor="start" textLength="16" lengthAdjust="spacingAndGlyphs"  style="">（</text>
<text x="87" y="1244.5" font-family='"Liberation Sans","Noto Sans CJK SC",sans-serif' font-size="25.5" fill="#231815" textLength="65" lengthAdjust="spacingAndGlyphs">4G/5G</text>
<text x="156" y="1244" font-family='"Liberation Serif","Noto Serif CJK SC",serif' font-size="22.5" fill="#231815" font-weight="500" text-anchor="start" textLength="320" lengthAdjust="spacingAndGlyphs"  style="">模式只支持云服务平台设置管理</text>
<text x="477" y="1244" font-family='"Liberation Serif","Noto Serif CJK SC",serif' font-size="22.5" fill="#231815" font-weight="500" text-anchor="start" textLength="16" lengthAdjust="spacingAndGlyphs"  style="">）</text>
<g transform="translate(356,942) scale(0.25)">
<rect x="0" y="0" width="724" height="408" fill="#ffffff"/>
<rect x="0" y="0" width="724" height="82" fill="#f1f1f1"/>
<rect x="0" y="82" width="724" height="4" fill="#d4d4d4"/>
<rect x="560" y="10" width="150" height="66" fill="#f8f8f8"/>
<text x="16" y="49" font-family='"Liberation Sans","Noto Sans CJK SC",sans-serif' font-size="29" fill="#333333" font-weight="normal" text-anchor="start" textLength="80" lengthAdjust="spacingAndGlyphs"  style="">GORGY</text>
<circle cx="128" cy="39" r="19" fill="#141414"/><circle cx="132" cy="37" r="6" fill="#ffffff"/>
<text x="160" y="49" font-family='"Liberation Sans","Noto Sans CJK SC",sans-serif' font-size="29" fill="#333333" font-weight="normal" text-anchor="start" textLength="84" lengthAdjust="spacingAndGlyphs"  style="">TIMING</text>
<text x="14" y="72" font-family='"Liberation Sans","Noto Sans CJK SC",sans-serif' font-size="9" fill="#222222" font-weight="bold" text-anchor="start" textLength="150" lengthAdjust="spacingAndGlyphs"  style="">GORGY TIMING TECHNOLOGY (SHANGHAI) LTD.</text>
<text x="0" y="128" font-family='"Liberation Sans","Noto Sans CJK SC",sans-serif' font-size="11" fill="#6a2fb0" text-decoration="underline">Home</text>
<text x="0" y="145" font-family='"Liberation Sans","Noto Sans CJK SC",sans-serif' font-size="11" fill="#6a2fb0" text-decoration="underline">Network</text>
<text x="0" y="162" font-family='"Liberation Sans","Noto Sans CJK SC",sans-serif' font-size="11" fill="#6a2fb0" text-decoration="underline">Time parameters</text>
<text x="0" y="179" font-family='"Liberation Sans","Noto Sans CJK SC",sans-serif' font-size="11" fill="#6a2fb0" text-decoration="underline">Event</text>
<text x="0" y="196" font-family='"Liberation Sans","Noto Sans CJK SC",sans-serif' font-size="11" fill="#6a2fb0" text-decoration="underline">Alarm</text>
<text x="0" y="213" font-family='"Liberation Sans","Noto Sans CJK SC",sans-serif' font-size="11" fill="#6a2fb0" text-decoration="underline">Display parameters</text>
<text x="0" y="230" font-family='"Liberation Sans","Noto Sans CJK SC",sans-serif' font-size="11" fill="#6a2fb0" text-decoration="underline">Upload Firmware</text>
<text x="0" y="247" font-family='"Liberation Sans","Noto Sans CJK SC",sans-serif' font-size="11" fill="#6a2fb0" text-decoration="underline">Reboot</text>
<text x="276" y="132" font-family='"Liberation Sans","Noto Sans CJK SC",sans-serif' font-size="20" fill="#2a55c8" font-weight="bold" text-anchor="start"  style="">Event</text>
<text x="288" y="158" font-family='"Liberation Sans","Noto Sans CJK SC",sans-serif' font-size="11" fill="#333333" font-weight="normal" text-anchor="start"  style="">☑ EVENT1</text>
<text x="404" y="181" font-family='"Liberation Sans","Noto Sans CJK SC",sans-serif' font-size="11" fill="#333333" font-weight="normal" text-anchor="end"  style="">Start Time</text>
<rect x="412" y="168" width="84" height="20" fill="#e2e2e2"/><rect x="504" y="168" width="40" height="20" fill="#e2e2e2"/><rect x="552" y="168" width="40" height="20" fill="#e2e2e2"/>
<text x="416" y="182" font-family='"Liberation Sans","Noto Sans CJK SC",sans-serif' font-size="11" fill="#8a8a8a" font-weight="normal" text-anchor="start"  style="">2019</text>
<text x="508" y="182" font-family='"Liberation Sans","Noto Sans CJK SC",sans-serif' font-size="11" fill="#8a8a8a" font-weight="normal" text-anchor="start"  style="">01</text>
<text x="556" y="182" font-family='"Liberation Sans","Noto Sans CJK SC",sans-serif' font-size="11" fill="#8a8a8a" font-weight="normal" text-anchor="start"  style="">01</text>
<text x="482" y="182" font-family='"Liberation Sans","Noto Sans CJK SC",sans-serif' font-size="11" fill="#8a8a8a" font-weight="normal" text-anchor="start"  style="">˅</text>
<text x="532" y="182" font-family='"Liberation Sans","Noto Sans CJK SC",sans-serif' font-size="11" fill="#8a8a8a" font-weight="normal" text-anchor="start"  style="">˅</text>
<text x="580" y="182" font-family='"Liberation Sans","Noto Sans CJK SC",sans-serif' font-size="11" fill="#8a8a8a" font-weight="normal" text-anchor="start"  style="">˅</text>
<rect x="600" y="168" width="32" height="21" fill="#fff" stroke="#222" stroke-width="2"/><rect x="644" y="168" width="32" height="21" fill="#fff" stroke="#222" stroke-width="2"/>
<text x="604" y="183" font-family='"Liberation Sans","Noto Sans CJK SC",sans-serif' font-size="11" fill="#222222" font-weight="normal" text-anchor="start"  style="">11</text>
<text x="648" y="183" font-family='"Liberation Sans","Noto Sans CJK SC",sans-serif' font-size="11" fill="#222222" font-weight="normal" text-anchor="start"  style="">30</text>
<text x="404" y="215" font-family='"Liberation Sans","Noto Sans CJK SC",sans-serif' font-size="11" fill="#333333" font-weight="normal" text-anchor="end"  style="">End Time</text>
<rect x="412" y="202" width="84" height="20" fill="#e2e2e2"/><rect x="504" y="202" width="40" height="20" fill="#e2e2e2"/><rect x="552" y="202" width="40" height="20" fill="#e2e2e2"/>
<text x="416" y="216" font-family='"Liberation Sans","Noto Sans CJK SC",sans-serif' font-size="11" fill="#8a8a8a" font-weight="normal" text-anchor="start"  style="">2019</text>
<text x="508" y="216" font-family='"Liberation Sans","Noto Sans CJK SC",sans-serif' font-size="11" fill="#8a8a8a" font-weight="normal" text-anchor="start"  style="">01</text>
<text x="556" y="216" font-family='"Liberation Sans","Noto Sans CJK SC",sans-serif' font-size="11" fill="#8a8a8a" font-weight="normal" text-anchor="start"  style="">01</text>
<text x="482" y="216" font-family='"Liberation Sans","Noto Sans CJK SC",sans-serif' font-size="11" fill="#8a8a8a" font-weight="normal" text-anchor="start"  style="">˅</text>
<text x="532" y="216" font-family='"Liberation Sans","Noto Sans CJK SC",sans-serif' font-size="11" fill="#8a8a8a" font-weight="normal" text-anchor="start"  style="">˅</text>
<text x="580" y="216" font-family='"Liberation Sans","Noto Sans CJK SC",sans-serif' font-size="11" fill="#8a8a8a" font-weight="normal" text-anchor="start"  style="">˅</text>
<rect x="600" y="202" width="32" height="21" fill="#fff" stroke="#222" stroke-width="2"/><rect x="644" y="202" width="32" height="21" fill="#fff" stroke="#222" stroke-width="2"/>
<text x="604" y="217" font-family='"Liberation Sans","Noto Sans CJK SC",sans-serif' font-size="11" fill="#222222" font-weight="normal" text-anchor="start"  style="">11</text>
<text x="648" y="217" font-family='"Liberation Sans","Noto Sans CJK SC",sans-serif' font-size="11" fill="#222222" font-weight="normal" text-anchor="start"  style="">39</text>
<text x="404" y="252" font-family='"Liberation Sans","Noto Sans CJK SC",sans-serif' font-size="11" fill="#333333" font-weight="normal" text-anchor="end"  style="">countdown</text>
<rect x="412" y="237" width="48" height="22" fill="#fff" stroke="#222" stroke-width="2"/>
<text x="416" y="253" font-family='"Liberation Sans","Noto Sans CJK SC",sans-serif' font-size="11" fill="#222222" font-weight="normal" text-anchor="start"  style="">60</text>
<text x="468" y="252" font-family='"Liberation Sans","Noto Sans CJK SC",sans-serif' font-size="11" fill="#333333" font-weight="normal" text-anchor="start"  style="">minute</text>
<text x="296" y="280" font-family='"Liberation Sans","Noto Sans CJK SC",sans-serif' font-size="11" fill="#333333" font-weight="normal" text-anchor="start"  style="">☑ EVERY DAY</text>
<rect x="276" y="290" width="448" height="2" fill="#d0d0d0"/>
<text x="288" y="310" font-family='"Liberation Sans","Noto Sans CJK SC",sans-serif' font-size="11" fill="#333333" font-weight="normal" text-anchor="start"  style="">☑ EVENT2</text>
<text x="404" y="333" font-family='"Liberation Sans","Noto Sans CJK SC",sans-serif' font-size="11" fill="#333333" font-weight="normal" text-anchor="end"  style="">Start Time</text>
<rect x="412" y="320" width="84" height="20" fill="#e2e2e2"/><rect x="504" y="320" width="40" height="20" fill="#e2e2e2"/><rect x="552" y="320" width="40" height="20" fill="#e2e2e2"/>
<text x="416" y="334" font-family='"Liberation Sans","Noto Sans CJK SC",sans-serif' font-size="11" fill="#8a8a8a" font-weight="normal" text-anchor="start"  style="">2019</text>
<text x="508" y="334" font-family='"Liberation Sans","Noto Sans CJK SC",sans-serif' font-size="11" fill="#8a8a8a" font-weight="normal" text-anchor="start"  style="">01</text>
<text x="556" y="334" font-family='"Liberation Sans","Noto Sans CJK SC",sans-serif' font-size="11" fill="#8a8a8a" font-weight="normal" text-anchor="start"  style="">01</text>
<text x="482" y="334" font-family='"Liberation Sans","Noto Sans CJK SC",sans-serif' font-size="11" fill="#8a8a8a" font-weight="normal" text-anchor="start"  style="">˅</text>
<text x="532" y="334" font-family='"Liberation Sans","Noto Sans CJK SC",sans-serif' font-size="11" fill="#8a8a8a" font-weight="normal" text-anchor="start"  style="">˅</text>
<text x="580" y="334" font-family='"Liberation Sans","Noto Sans CJK SC",sans-serif' font-size="11" fill="#8a8a8a" font-weight="normal" text-anchor="start"  style="">˅</text>
<rect x="600" y="320" width="32" height="21" fill="#fff" stroke="#222" stroke-width="2"/><rect x="644" y="320" width="32" height="21" fill="#fff" stroke="#222" stroke-width="2"/>
<text x="604" y="335" font-family='"Liberation Sans","Noto Sans CJK SC",sans-serif' font-size="11" fill="#222222" font-weight="normal" text-anchor="start"  style="">13</text>
<text x="648" y="335" font-family='"Liberation Sans","Noto Sans CJK SC",sans-serif' font-size="11" fill="#222222" font-weight="normal" text-anchor="start"  style="">31</text>
<text x="404" y="367" font-family='"Liberation Sans","Noto Sans CJK SC",sans-serif' font-size="11" fill="#333333" font-weight="normal" text-anchor="end"  style="">End Time</text>
<rect x="412" y="354" width="84" height="20" fill="#e2e2e2"/><rect x="504" y="354" width="40" height="20" fill="#e2e2e2"/><rect x="552" y="354" width="40" height="20" fill="#e2e2e2"/>
<text x="416" y="368" font-family='"Liberation Sans","Noto Sans CJK SC",sans-serif' font-size="11" fill="#8a8a8a" font-weight="normal" text-anchor="start"  style="">2019</text>
<text x="508" y="368" font-family='"Liberation Sans","Noto Sans CJK SC",sans-serif' font-size="11" fill="#8a8a8a" font-weight="normal" text-anchor="start"  style="">01</text>
<text x="556" y="368" font-family='"Liberation Sans","Noto Sans CJK SC",sans-serif' font-size="11" fill="#8a8a8a" font-weight="normal" text-anchor="start"  style="">01</text>
<text x="482" y="368" font-family='"Liberation Sans","Noto Sans CJK SC",sans-serif' font-size="11" fill="#8a8a8a" font-weight="normal" text-anchor="start"  style="">˅</text>
<text x="532" y="368" font-family='"Liberation Sans","Noto Sans CJK SC",sans-serif' font-size="11" fill="#8a8a8a" font-weight="normal" text-anchor="start"  style="">˅</text>
<text x="580" y="368" font-family='"Liberation Sans","Noto Sans CJK SC",sans-serif' font-size="11" fill="#8a8a8a" font-weight="normal" text-anchor="start"  style="">˅</text>
<rect x="600" y="354" width="32" height="21" fill="#fff" stroke="#222" stroke-width="2"/><rect x="644" y="354" width="32" height="21" fill="#fff" stroke="#222" stroke-width="2"/>
<text x="604" y="369" font-family='"Liberation Sans","Noto Sans CJK SC",sans-serif' font-size="11" fill="#222222" font-weight="normal" text-anchor="start"  style="">13</text>
<text x="648" y="369" font-family='"Liberation Sans","Noto Sans CJK SC",sans-serif' font-size="11" fill="#222222" font-weight="normal" text-anchor="start"  style="">34</text>
<text x="404" y="402" font-family='"Liberation Sans","Noto Sans CJK SC",sans-serif' font-size="11" fill="#333333" font-weight="normal" text-anchor="end"  style="">countdown</text>
<rect x="412" y="390" width="48" height="18" fill="#fff" stroke="#222" stroke-width="2"/>
<text x="468" y="402" font-family='"Liberation Sans","Noto Sans CJK SC",sans-serif' font-size="11" fill="#333333" font-weight="normal" text-anchor="start"  style="">minute</text>
</g>
<g transform="translate(642.5,824.7) scale(0.2465,0.2525)">
<rect x="0" y="0" width="732" height="384" fill="#ffffff" stroke="#cfcfcf" stroke-width="3"/>
<text x="10" y="20" font-family='"Liberation Sans","Noto Sans CJK SC",sans-serif' font-size="10" fill="#222222" font-weight="normal" text-anchor="start"  style="">■ GORGY TIMING 时钟设置管理软件</text>
<text x="640" y="20" font-family='"Liberation Sans","Noto Sans CJK SC",sans-serif' font-size="11" fill="#444444" font-weight="normal" text-anchor="start"  style="">—     ☐     ✕</text>
<text x="10" y="38" font-family='"Liberation Sans","Noto Sans CJK SC",sans-serif' font-size="10" fill="#222222" font-weight="normal" text-anchor="start"  style="">系统配置 ▾</text>
<rect x="6" y="46" width="288" height="218" fill="#ffffff" stroke="#dadada" stroke-width="2"/>
<rect x="298" y="46" width="428" height="218" fill="#ffffff" stroke="#dadada" stroke-width="2"/>
<text x="50" y="62" font-family='"Liberation Sans","Noto Sans CJK SC",sans-serif' font-size="9" fill="#111111" font-weight="normal" text-anchor="start"  style="">IP 地址</text>
<text x="130" y="62" font-family='"Liberation Sans","Noto Sans CJK SC",sans-serif' font-size="9" fill="#111111" font-weight="normal" text-anchor="start"  style="">设备名称</text>
<text x="222" y="62" font-family='"Liberation Sans","Noto Sans CJK SC",sans-serif' font-size="9" fill="#111111" font-weight="normal" text-anchor="start"  style="">设备分组</text>
<rect x="12" y="68" width="6" height="6" fill="#fff" stroke="#555" stroke-width="1"/>
<text x="30" y="74" font-family='"Liberation Sans","Noto Sans CJK SC",sans-serif' font-size="8" fill="#222222" font-weight="normal" text-anchor="start"  style="">192.168.1.70</text>
<text x="112" y="74" font-family='"Liberation Sans","Noto Sans CJK SC",sans-serif' font-size="8" fill="#222222" font-weight="normal" text-anchor="start"  style="">LEDI TGICLK 202001</text>
<text x="214" y="74" font-family='"Liberation Sans","Noto Sans CJK SC",sans-serif' font-size="8" fill="#222222" font-weight="normal" text-anchor="start"  style="">Eng2a-Clock 1</text>
<rect x="12" y="78" width="6" height="6" fill="#fff" stroke="#555" stroke-width="1"/>
<text x="30" y="84" font-family='"Liberation Sans","Noto Sans CJK SC",sans-serif' font-size="8" fill="#222222" font-weight="normal" text-anchor="start"  style="">192.168.1.71</text>
<text x="112" y="84" font-family='"Liberation Sans","Noto Sans CJK SC",sans-serif' font-size="8" fill="#222222" font-weight="normal" text-anchor="start"  style="">LEDI TGICLK 202002</text>
<text x="214" y="84" font-family='"Liberation Sans","Noto Sans CJK SC",sans-serif' font-size="8" fill="#222222" font-weight="normal" text-anchor="start"  style="">Eng2a-Clock 2</text>
<rect x="12" y="88" width="6" height="6" fill="#fff" stroke="#555" stroke-width="1"/>
<text x="30" y="94" font-family='"Liberation Sans","Noto Sans CJK SC",sans-serif' font-size="8" fill="#222222" font-weight="normal" text-anchor="start"  style="">192.168.1.72</text>
<text x="112" y="94" font-family='"Liberation Sans","Noto Sans CJK SC",sans-serif' font-size="8" fill="#222222" font-weight="normal" text-anchor="start"  style="">LEDI TGICLK 202003</text>
<text x="214" y="94" font-family='"Liberation Sans","Noto Sans CJK SC",sans-serif' font-size="8" fill="#222222" font-weight="normal" text-anchor="start"  style="">Eng2a-Clock 3</text>
<rect x="12" y="98" width="6" height="6" fill="#fff" stroke="#555" stroke-width="1"/>
<text x="30" y="104" font-family='"Liberation Sans","Noto Sans CJK SC",sans-serif' font-size="8" fill="#222222" font-weight="normal" text-anchor="start"  style="">192.168.10.123</text>
<text x="112" y="104" font-family='"Liberation Sans","Noto Sans CJK SC",sans-serif' font-size="8" fill="#222222" font-weight="normal" text-anchor="start"  style="">演播室播出分组</text>
<text x="214" y="104" font-family='"Liberation Sans","Noto Sans CJK SC",sans-serif' font-size="8" fill="#222222" font-weight="normal" text-anchor="start"  style="">教室学生分组</text>
<text x="304" y="62" font-family='"Liberation Sans","Noto Sans CJK SC",sans-serif' font-size="9" fill="#111111" font-weight="normal" text-anchor="start"  style="">编组</text>
<text x="340" y="62" font-family='"Liberation Sans","Noto Sans CJK SC",sans-serif' font-size="9" fill="#111111" font-weight="normal" text-anchor="start"  style="">使用状态</text>
<text x="420" y="62" font-family='"Liberation Sans","Noto Sans CJK SC",sans-serif' font-size="9" fill="#111111" font-weight="normal" text-anchor="start"  style="">开始时间</text>
<text x="540" y="62" font-family='"Liberation Sans","Noto Sans CJK SC",sans-serif' font-size="9" fill="#111111" font-weight="normal" text-anchor="start"  style="">结束时间</text>
<text x="650" y="62" font-family='"Liberation Sans","Noto Sans CJK SC",sans-serif' font-size="9" fill="#111111" font-weight="normal" text-anchor="start"  style="">提前分钟</text>
<rect x="306" y="68" width="6" height="6" fill="#fff" stroke="#555" stroke-width="1"/>
<text x="354" y="74" font-family='"Liberation Sans","Noto Sans CJK SC",sans-serif' font-size="8" fill="#222222" font-weight="normal" text-anchor="start"  style="">是</text>
<text x="404" y="74" font-family='"Liberation Sans","Noto Sans CJK SC",sans-serif' font-size="8" fill="#222222" font-weight="normal" text-anchor="start"  style="">2019-08-06 10:30</text>
<text x="524" y="74" font-family='"Liberation Sans","Noto Sans CJK SC",sans-serif' font-size="8" fill="#222222" font-weight="normal" text-anchor="start"  style="">2019-08-06 10:50</text>
<text x="668" y="74" font-family='"Liberation Sans","Noto Sans CJK SC",sans-serif' font-size="8" fill="#222222" font-weight="normal" text-anchor="start"  style="">1m</text>
<rect x="306" y="78" width="6" height="6" fill="#fff" stroke="#555" stroke-width="1"/>
<text x="354" y="84" font-family='"Liberation Sans","Noto Sans CJK SC",sans-serif' font-size="8" fill="#222222" font-weight="normal" text-anchor="start"  style="">是</text>
<text x="404" y="84" font-family='"Liberation Sans","Noto Sans CJK SC",sans-serif' font-size="8" fill="#222222" font-weight="normal" text-anchor="start"  style="">2019-08-06 11:30</text>
<text x="524" y="84" font-family='"Liberation Sans","Noto Sans CJK SC",sans-serif' font-size="8" fill="#222222" font-weight="normal" text-anchor="start"  style="">2019-08-06 11:50</text>
<text x="668" y="84" font-family='"Liberation Sans","Noto Sans CJK SC",sans-serif' font-size="8" fill="#222222" font-weight="normal" text-anchor="start"  style="">2m</text>
<rect x="306" y="88" width="6" height="6" fill="#fff" stroke="#555" stroke-width="1"/>
<text x="354" y="94" font-family='"Liberation Sans","Noto Sans CJK SC",sans-serif' font-size="8" fill="#222222" font-weight="normal" text-anchor="start"  style="">是</text>
<text x="404" y="94" font-family='"Liberation Sans","Noto Sans CJK SC",sans-serif' font-size="8" fill="#222222" font-weight="normal" text-anchor="start"  style="">2019-08-06 12:30</text>
<text x="524" y="94" font-family='"Liberation Sans","Noto Sans CJK SC",sans-serif' font-size="8" fill="#222222" font-weight="normal" text-anchor="start"  style="">2019-08-06 12:50</text>
<text x="668" y="94" font-family='"Liberation Sans","Noto Sans CJK SC",sans-serif' font-size="8" fill="#222222" font-weight="normal" text-anchor="start"  style="">3m</text>
<rect x="306" y="98" width="6" height="6" fill="#fff" stroke="#555" stroke-width="1"/>
<text x="354" y="104" font-family='"Liberation Sans","Noto Sans CJK SC",sans-serif' font-size="8" fill="#222222" font-weight="normal" text-anchor="start"  style="">是</text>
<text x="404" y="104" font-family='"Liberation Sans","Noto Sans CJK SC",sans-serif' font-size="8" fill="#222222" font-weight="normal" text-anchor="start"  style="">2019-08-06 13:30</text>
<text x="524" y="104" font-family='"Liberation Sans","Noto Sans CJK SC",sans-serif' font-size="8" fill="#222222" font-weight="normal" text-anchor="start"  style="">2019-08-06 13:50</text>
<text x="668" y="104" font-family='"Liberation Sans","Noto Sans CJK SC",sans-serif' font-size="8" fill="#222222" font-weight="normal" text-anchor="start"  style="">4m</text>
<rect x="306" y="108" width="6" height="6" fill="#fff" stroke="#555" stroke-width="1"/>
<text x="354" y="114" font-family='"Liberation Sans","Noto Sans CJK SC",sans-serif' font-size="8" fill="#222222" font-weight="normal" text-anchor="start"  style="">是</text>
<text x="404" y="114" font-family='"Liberation Sans","Noto Sans CJK SC",sans-serif' font-size="8" fill="#222222" font-weight="normal" text-anchor="start"  style="">2019-08-06 14:30</text>
<text x="524" y="114" font-family='"Liberation Sans","Noto Sans CJK SC",sans-serif' font-size="8" fill="#222222" font-weight="normal" text-anchor="start"  style="">2019-08-06 14:50</text>
<text x="668" y="114" font-family='"Liberation Sans","Noto Sans CJK SC",sans-serif' font-size="8" fill="#222222" font-weight="normal" text-anchor="start"  style="">5m</text>
<rect x="306" y="118" width="6" height="6" fill="#fff" stroke="#555" stroke-width="1"/>
<text x="354" y="124" font-family='"Liberation Sans","Noto Sans CJK SC",sans-serif' font-size="8" fill="#222222" font-weight="normal" text-anchor="start"  style="">是</text>
<text x="404" y="124" font-family='"Liberation Sans","Noto Sans CJK SC",sans-serif' font-size="8" fill="#222222" font-weight="normal" text-anchor="start"  style="">2019-08-06 15:30</text>
<text x="524" y="124" font-family='"Liberation Sans","Noto Sans CJK SC",sans-serif' font-size="8" fill="#222222" font-weight="normal" text-anchor="start"  style="">2019-08-06 15:50</text>
<text x="668" y="124" font-family='"Liberation Sans","Noto Sans CJK SC",sans-serif' font-size="8" fill="#222222" font-weight="normal" text-anchor="start"  style="">6m</text>
<text x="60" y="282" font-family='"Liberation Sans","Noto Sans CJK SC",sans-serif' font-size="9" fill="#111111" font-weight="normal" text-anchor="start"  style="">设备IP地址</text>
<text x="250" y="282" font-family='"Liberation Sans","Noto Sans CJK SC",sans-serif' font-size="9" fill="#111111" font-weight="normal" text-anchor="start"  style="">设备分组</text>
<text x="440" y="282" font-family='"Liberation Sans","Noto Sans CJK SC",sans-serif' font-size="9" fill="#111111" font-weight="normal" text-anchor="start"  style="">操作结果</text>
<rect x="10" y="286" width="616" height="12" fill="#e8231c"/>
<rect x="10" y="298" width="616" height="12" fill="#2c9a36"/>
<text x="60" y="296" font-family='"Liberation Sans","Noto Sans CJK SC",sans-serif' font-size="8" fill="#111111" font-weight="normal" text-anchor="start"  style="">192.168.1.70</text>
<text x="250" y="296" font-family='"Liberation Sans","Noto Sans CJK SC",sans-serif' font-size="8" fill="#111111" font-weight="normal" text-anchor="start"  style="">演播室分组</text>
<text x="380" y="296" font-family='"Liberation Sans","Noto Sans CJK SC",sans-serif' font-size="8" fill="#111111" font-weight="normal" text-anchor="start"  style="">发送时间失败，请检查设备网络连接状态</text>
<text x="60" y="308" font-family='"Liberation Sans","Noto Sans CJK SC",sans-serif' font-size="8" fill="#111111" font-weight="normal" text-anchor="start"  style="">192.168.10.123</text>
<text x="250" y="308" font-family='"Liberation Sans","Noto Sans CJK SC",sans-serif' font-size="8" fill="#111111" font-weight="normal" text-anchor="start"  style="">教室分组</text>
<text x="470" y="308" font-family='"Liberation Sans","Noto Sans CJK SC",sans-serif' font-size="8" fill="#111111" font-weight="normal" text-anchor="start"  style="">成功</text>
<rect x="644" y="312" width="46" height="22" fill="#efefef" stroke="#aaaaaa" stroke-width="1.5"/>
<text x="667" y="328" font-family='"Liberation Sans","Noto Sans CJK SC",sans-serif' font-size="10" fill="#222222" font-weight="normal" text-anchor="middle"  style="">发送</text>
</g>
<circle cx="709" cy="956" r="3.4" fill="#c98673"/>
<rect x="748.500" y="948" width="5" height="21" fill="#35a0e6"/><rect x="790" y="948" width="5" height="21" fill="#35a0e6"/>
<rect x="806" y="931" width="21" height="3.400" fill="#35a0e6"/>
<ellipse cx="713" cy="940" rx="24" ry="8.5" fill="#6d7d2c" stroke="#4c5a1a" stroke-width="0.6"/>
<rect x="695" y="918" width="14" height="20" fill="#c8c8c8" stroke="#777" stroke-width="0.6"/>
<rect x="696.5" y="920.5" width="11" height="2.6" fill="#3f78c8"/>
<rect x="696.5" y="925.5" width="11" height="2.6" fill="#3f78c8"/>
<rect x="696.5" y="930.5" width="11" height="2.6" fill="#3f78c8"/>
<rect x="719" y="920" width="12" height="16" fill="#c8c8c8" stroke="#777" stroke-width="0.6"/>
<rect x="720.5" y="922.5" width="9" height="2.6" fill="#3f78c8"/>
<rect x="720.5" y="927.5" width="9" height="2.6" fill="#3f78c8"/>
<rect x="720.5" y="932.5" width="9" height="2.6" fill="#3f78c8"/>
<rect x="705" y="910" width="17" height="34" fill="#c8c8c8" stroke="#777" stroke-width="0.6"/>
<rect x="706.5" y="912.5" width="14" height="2.6" fill="#3f78c8"/>
<rect x="706.5" y="917.5" width="14" height="2.6" fill="#3f78c8"/>
<rect x="706.5" y="922.5" width="14" height="2.6" fill="#3f78c8"/>
<rect x="706.5" y="927.5" width="14" height="2.6" fill="#3f78c8"/>
<rect x="706.5" y="932.5" width="14" height="2.6" fill="#3f78c8"/>
<rect x="706.5" y="937.5" width="14" height="2.6" fill="#3f78c8"/>
<g transform="translate(728.6,918.4) scale(1,1) translate(-728.6,-918.4)">
<path d="M738 951 C730 951 727 943 731 938 C728 930 736 924 744 927 C748 918 764 916 770 923 C778 917 794 919 797 928 C807 928 811 938 806 944 C808 951 798 956 791 952 C785 957 772 957 768 953 C760 957 748 957 746 952 C743 953 740 952 738 951 Z" fill="url(#lanG)" stroke="#3a9be0" stroke-width="1.400"/>
</g>
<text x="766.4" y="940.4" font-family='"Liberation Sans","Noto Sans CJK SC",sans-serif' font-size="10.5" fill="#1a1a1a" font-weight="normal" text-anchor="middle" textLength="45" lengthAdjust="spacingAndGlyphs"  style="">内部局域网</text>
<polygon points="829,904 862,904 862,926 829,926" fill="#e8e8e8" stroke="#666" stroke-width="0.8" />
<polygon points="831.5,906.5 859.5,906.5 859.5,923.5 831.5,923.5" fill="#2f63c0" />
<polygon points="829,926 862,926 868,937 823,937" fill="#cfcfcf" stroke="#666" stroke-width="0.8" />
<polygon points="830,928 861,928 864,934 827,934" fill="#9a9a9a" />
<path d="M877.5 920.8 C887.9 920 896 925 896 933.4 C896 938.9 888.6 941 877.5 941 C866.4 941 859 938.9 859 933.4 C859 925 867.1 920 877.5 920.8 Z" fill="#2f5fb0" stroke="#1c3e7a" stroke-width="1"/>
<path d="M872.3 922.5 L882.7 922.5 L877.5 936.8 Z" fill="#ffffff"/>
<path d="M875.6 923.4 L879.4 923.4 L880.1 934.3 L874.9 934.3 Z" fill="#dfe8fa"/>
<ellipse cx="877.5" cy="912" rx="12.9" ry="13" fill="url(#headG)" stroke="#a8660f" stroke-width="0.8"/>
<g transform="translate(709,968.5)">
<rect x="0" y="0" width="55" height="36.5" fill="#d2d2d2" stroke="#9c9c9c" stroke-width="0.5"/>
<rect x="1.6" y="1.6" width="51.8" height="33.3" fill="#060606"/>
<text x="8.8" y="10" font-family='"Liberation Serif","Noto Serif CJK SC",serif' font-weight="bold" font-size="5.3" fill="#f4f4f4" textLength="9.4" lengthAdjust="spacingAndGlyphs">开播</text>
<text transform="translate(23.6,10.4) skewX(-9)" font-family='"DejaVu Sans Light","DejaVu Sans","Liberation Sans",sans-serif' font-weight="200" font-size="7.7" fill="#d8382f" textLength="17.6" lengthAdjust="spacingAndGlyphs">19:30</text>
<text transform="translate(42.9,10.2) skewX(-9)" font-family='"DejaVu Sans Light","DejaVu Sans","Liberation Sans",sans-serif' font-weight="200" font-size="4.7" fill="#d8382f" textLength="5.5" lengthAdjust="spacingAndGlyphs">00</text>
<text transform="translate(5.5,23.9) skewX(-9)" font-family='"DejaVu Sans Light","DejaVu Sans","Liberation Sans",sans-serif' font-weight="200" font-size="13.8" fill="#35b777" textLength="30.8" lengthAdjust="spacingAndGlyphs">20:59</text>
<text transform="translate(38.1,23.7) skewX(-9)" font-family='"DejaVu Sans Light","DejaVu Sans","Liberation Sans",sans-serif' font-weight="200" font-size="11.8" fill="#35b777" textLength="11" lengthAdjust="spacingAndGlyphs">46</text>
<text x="8.8" y="31.9" font-family='"Liberation Serif","Noto Serif CJK SC",serif' font-weight="bold" font-size="5.3" fill="#f4f4f4" textLength="9.4" lengthAdjust="spacingAndGlyphs">计时</text>
<text transform="translate(22.5,32.3) skewX(-9)" font-family='"DejaVu Sans Light","DejaVu Sans","Liberation Sans",sans-serif' font-weight="200" font-size="7.7" fill="#cdbd48" textLength="18.7" lengthAdjust="spacingAndGlyphs">01:29</text>
<text transform="translate(44.6,31.9) skewX(-9)" font-family='"DejaVu Sans Light","DejaVu Sans","Liberation Sans",sans-serif' font-weight="200" font-size="4.7" fill="#cdbd48" textLength="4.4" lengthAdjust="spacingAndGlyphs">46</text>
</g>
<g transform="translate(781,968.5)">
<rect x="0" y="0" width="55" height="36.5" fill="#d2d2d2" stroke="#9c9c9c" stroke-width="0.5"/>
<rect x="1.6" y="1.6" width="51.8" height="33.3" fill="#060606"/>
<text x="8.8" y="10" font-family='"Liberation Serif","Noto Serif CJK SC",serif' font-weight="bold" font-size="5.3" fill="#f4f4f4" textLength="9.4" lengthAdjust="spacingAndGlyphs">开播</text>
<text transform="translate(23.6,10.4) skewX(-9)" font-family='"DejaVu Sans Light","DejaVu Sans","Liberation Sans",sans-serif' font-weight="200" font-size="7.7" fill="#cdbd48" textLength="17.6" lengthAdjust="spacingAndGlyphs">21:30</text>
<text transform="translate(42.9,10.2) skewX(-9)" font-family='"DejaVu Sans Light","DejaVu Sans","Liberation Sans",sans-serif' font-weight="200" font-size="4.7" fill="#cdbd48" textLength="5.5" lengthAdjust="spacingAndGlyphs">00</text>
<text transform="translate(5.5,23.9) skewX(-9)" font-family='"DejaVu Sans Light","DejaVu Sans","Liberation Sans",sans-serif' font-weight="200" font-size="13.8" fill="#35b777" textLength="30.8" lengthAdjust="spacingAndGlyphs">20:59</text>
<text transform="translate(38.1,23.7) skewX(-9)" font-family='"DejaVu Sans Light","DejaVu Sans","Liberation Sans",sans-serif' font-weight="200" font-size="11.8" fill="#35b777" textLength="11" lengthAdjust="spacingAndGlyphs">46</text>
<text x="8.8" y="31.9" font-family='"Liberation Serif","Noto Serif CJK SC",serif' font-weight="bold" font-size="5.3" fill="#f4f4f4" textLength="9.4" lengthAdjust="spacingAndGlyphs">计时</text>
<text transform="translate(22.5,32.3) skewX(-9)" font-family='"DejaVu Sans Light","DejaVu Sans","Liberation Sans",sans-serif' font-weight="200" font-size="7.7" fill="#d8382f" textLength="18.7" lengthAdjust="spacingAndGlyphs">00:30</text>
<text transform="translate(44.6,31.9) skewX(-9)" font-family='"DejaVu Sans Light","DejaVu Sans","Liberation Sans",sans-serif' font-weight="200" font-size="4.7" fill="#d8382f" textLength="4.4" lengthAdjust="spacingAndGlyphs">14</text>
</g>
<polygon points="656.5,992.5 672,984.3 670.5,981.9" fill="#fbd23c" stroke="#f19a1b" stroke-width="1" />
<polygon points="673.3,982.8 680.3,978.9 678.7,976.4 672,980.7" fill="#fbd23c" stroke="#f19a1b" stroke-width="1" />
<polygon points="691,970 681.8,977.7 680.2,975.3" fill="#fbd23c" stroke="#f19a1b" stroke-width="1" />
<polygon points="667,986.8 676.5,984.3 673.1,983.3 676.8,978 667.4,980.5 670.8,981.5" fill="#fbd23c" stroke="#f19a1b" stroke-width="1" />
<polygon points="675.3,981.4 684.8,978.9 681.4,977.9 685.1,972.6 675.7,975.1 679.1,976.1" fill="#fbd23c" stroke="#f19a1b" stroke-width="1" />
<polygon points="628,1057.5 610.1,1069.9 611.9,1072.1" fill="#fbd23c" stroke="#f19a1b" stroke-width="1" />
<polygon points="608.9,1071.8 600.5,1077.7 602.4,1080.1 610.4,1073.6" fill="#fbd23c" stroke="#f19a1b" stroke-width="1" />
<polygon points="588,1090 599,1079.2 600.8,1081.4" fill="#fbd23c" stroke="#f19a1b" stroke-width="1" />
<polygon points="615.5,1066.4 604.9,1070.2 609,1071.1 605.2,1077.3 615.7,1073.5 611.6,1072.6" fill="#fbd23c" stroke="#f19a1b" stroke-width="1" />
<polygon points="605.9,1074.2 595.3,1078 599.4,1078.9 595.6,1085.1 606.1,1081.3 602,1080.4" fill="#fbd23c" stroke="#f19a1b" stroke-width="1" />
<polygon points="639,1060 660.6,1114.7 663.2,1113.6" fill="#fbd23c" stroke="#f19a1b" stroke-width="1" />
<polygon points="662.2,1116.9 674.5,1147.3 677.3,1146.2 664.4,1115.9" fill="#fbd23c" stroke="#f19a1b" stroke-width="1" />
<polygon points="697,1196 675.7,1149.7 678.3,1148.6" fill="#fbd23c" stroke="#f19a1b" stroke-width="1" />
<polygon points="658.1,1107.3 658.8,1121.1 661.5,1116.4 667.1,1123.2 666.3,1109.4 663.6,1114.1" fill="#fbd23c" stroke="#f19a1b" stroke-width="1" />
<polygon points="672,1139.9 672.8,1153.7 675.5,1149.1 681,1155.9 680.2,1142.1 677.5,1146.8" fill="#fbd23c" stroke="#f19a1b" stroke-width="1" />
<polygon points="665.5,1052.5 695.2,1060.9 695.9,1058.2" fill="#fbd23c" stroke="#f19a1b" stroke-width="1" />
<polygon points="697.9,1060.9 712.6,1064.9 713.3,1061.9 698.4,1058.6" fill="#fbd23c" stroke="#f19a1b" stroke-width="1" />
<polygon points="738,1069 715.2,1065.2 715.8,1062.5" fill="#fbd23c" stroke="#f19a1b" stroke-width="1" />
<polygon points="687.8,1058.6 699.4,1066.1 697.2,1061.1 705.9,1060.7 694.3,1053.2 696.5,1058.1" fill="#fbd23c" stroke="#f19a1b" stroke-width="1" />
<polygon points="705.2,1062.6 716.8,1070 714.6,1065.1 723.3,1064.6 711.7,1057.2 713.9,1062.1" fill="#fbd23c" stroke="#f19a1b" stroke-width="1" />
<circle cx="654.5" cy="1053.5" r="3.4" fill="#c98673"/>
<circle cx="575.5" cy="1098.5" r="3.4" fill="#c98673"/>
<circle cx="780.5" cy="1078.5" r="3.4" fill="#c98673"/>
<circle cx="708" cy="1217.5" r="3.4" fill="#c98673"/>
<g transform="translate(452.1,812.5) scale(0.876,0.905)">
<path d="M165 256.5 C156 256.5 152.5 248 154 242 C155 236 159 233 163 232.500 C164 221 176 212 188 213 C194 213.500 198 216 200 219 L204 256.500 Z" fill="#4a98cb" stroke="#ffffff" stroke-width="2.400"/>
</g>
<g transform="translate(438.1,812.5) scale(0.876,0.905)">
<path d="M199 260.5 C190 260.5 186.5 252 187 245 C187.5 236 193 230 200 229 C198 214 212 202 230 202 C240 202 248 206 253 212 C262 207 274 212 277 224 C286 226 289.5 236 289 244 C288.5 254 282 260.5 275 260.5 Z" fill="url(#cloudR)" stroke="#ffffff" stroke-width="2.600"/>
</g>
<text x="632" y="1020.5" font-family='"Liberation Sans","Noto Sans CJK SC",sans-serif' font-size="12.5" fill="#16222e" font-weight="normal" text-anchor="middle" textLength="46" lengthAdjust="spacingAndGlyphs"  style="">时钟系统</text>
<text x="632" y="1036.5" font-family='"Liberation Sans","Noto Sans CJK SC",sans-serif' font-size="12.5" fill="#16222e" font-weight="normal" text-anchor="middle" textLength="56" lengthAdjust="spacingAndGlyphs"  style="">云服务平台</text>
<path d="M562 990 L584 990 L590 995 L590 1043 L558 1043 L558 995 Z" fill="#dcdcdc" stroke="#444" stroke-width="1.2"/>
<rect x="562" y="997" width="24" height="22" fill="#f2f2f2" stroke="#999" stroke-width="0.5"/>
<rect x="565" y="1000" width="18" height="1.4" fill="#888"/>
<rect x="565" y="1004.5" width="18" height="1.4" fill="#888"/>
<rect x="565" y="1009" width="18" height="1.4" fill="#888"/>
<rect x="565" y="1013.5" width="18" height="1.4" fill="#888"/>
<rect x="562" y="1024" width="1.8" height="16" fill="#8a8a8a"/>
<rect x="565.6" y="1024" width="1.8" height="16" fill="#8a8a8a"/>
<rect x="569.2" y="1024" width="1.8" height="16" fill="#8a8a8a"/>
<rect x="572.8" y="1024" width="1.8" height="16" fill="#8a8a8a"/>
<rect x="576.4" y="1024" width="1.8" height="16" fill="#8a8a8a"/>
<rect x="580" y="1024" width="1.8" height="16" fill="#8a8a8a"/>
<rect x="583.6" y="1024" width="1.8" height="16" fill="#8a8a8a"/>
<circle cx="550" cy="1034" r="12.5" fill="#2f66c0" stroke="#9a9a9a" stroke-width="2"/>
<path d="M543 1026 c4 -3 8 -1 9 2 c-1 4 -5 3 -6 7 c-3 -1 -5 -5 -3 -9 Z M553 1036 c3 -1 6 1 5 4 c-2 3 -5 2 -5 -4 Z" fill="#f2f2f2"/>
<path d="M525 1086 L517 1124 M525 1086 L533 1124 M521 1104 L529 1104 M519 1114 L531 1114 M521 1104 L531 1114 M529 1104 L519 1114" stroke="#2f7cc6" stroke-width="1" fill="none"/>
<path d="M521 1087 A5 5 0 0 1 529 1087" fill="none" stroke="#3d9ad8" stroke-width="0.8"/>
<path d="M518.6 1085.2 A8 8 0 0 1 531.4 1085.2" fill="none" stroke="#3d9ad8" stroke-width="0.8"/>
<path d="M516.2 1083.4 A11 11 0 0 1 533.8 1083.4" fill="none" stroke="#3d9ad8" stroke-width="0.8"/>
<ellipse cx="559.5" cy="1114" rx="25" ry="11" fill="#6d7d2c" stroke="#4c5a1a" stroke-width="0.6"/>
<rect x="539" y="1103" width="11" height="8" fill="#f2f2f2" stroke="#999" stroke-width="0.4"/>
<path d="M536.5 1104 L544.5 1096 L552.5 1104 Z" fill="#e0241c"/>
<rect x="542.7" y="1105.5" width="3.6" height="3.6" fill="#3f78c8"/>
<rect x="557" y="1099" width="11" height="8" fill="#f2f2f2" stroke="#999" stroke-width="0.4"/>
<path d="M554.5 1100 L562.5 1092 L570.5 1100 Z" fill="#e0241c"/>
<rect x="560.7" y="1101.5" width="3.6" height="3.6" fill="#3f78c8"/>
<rect x="567" y="1107" width="11" height="8" fill="#f2f2f2" stroke="#999" stroke-width="0.4"/>
<path d="M564.5 1108 L572.5 1100 L580.5 1108 Z" fill="#e0241c"/>
<rect x="570.7" y="1109.5" width="3.6" height="3.6" fill="#3f78c8"/>
<rect x="549" y="1111" width="11" height="8" fill="#f2f2f2" stroke="#999" stroke-width="0.4"/>
<path d="M546.5 1112 L554.5 1104 L562.5 1112 Z" fill="#e0241c"/>
<rect x="552.7" y="1113.5" width="3.6" height="3.6" fill="#3f78c8"/>
<text x="512" y="1102" font-family='"Liberation Sans","Noto Sans CJK SC",sans-serif' font-size="18.5" fill="#111111" font-weight="bold" text-anchor="start" textLength="44" lengthAdjust="spacingAndGlyphs"  style="">LoRa</text>
<path d="M505.5 1140 c0 -11 15 -11 15 0 c-2 3 -13 3 -15 0 Z" fill="#8e8e8e" stroke="#666" stroke-width="0.5"/>
<rect x="512.2" y="1141" width="1.6" height="6" fill="#666"/>
<path d="M574 1140 c0 -11 15 -11 15 0 c-2 3 -13 3 -15 0 Z" fill="#8e8e8e" stroke="#666" stroke-width="0.5"/>
<rect x="580.7" y="1141" width="1.6" height="6" fill="#666"/>
<g transform="translate(485.5,1141)">
<rect x="0" y="0" width="54" height="34.5" fill="#d2d2d2" stroke="#9c9c9c" stroke-width="0.5"/>
<rect x="1.6" y="1.6" width="50.8" height="31.3" fill="#060606"/>
<text x="8.6" y="9.5" font-family='"Liberation Serif","Noto Serif CJK SC",serif' font-weight="bold" font-size="5" fill="#f4f4f4" textLength="9.2" lengthAdjust="spacingAndGlyphs">考试</text>
<text transform="translate(23.1,9.8) skewX(-9)" font-family='"DejaVu Sans Light","DejaVu Sans","Liberation Sans",sans-serif' font-weight="200" font-size="7.3" fill="#cdbd48" textLength="17.3" lengthAdjust="spacingAndGlyphs">09:00</text>
<text transform="translate(42.1,9.7) skewX(-9)" font-family='"DejaVu Sans Light","DejaVu Sans","Liberation Sans",sans-serif' font-weight="200" font-size="4.4" fill="#cdbd48" textLength="5.4" lengthAdjust="spacingAndGlyphs">00</text>
<text transform="translate(5.4,22.6) skewX(-9)" font-family='"DejaVu Sans Light","DejaVu Sans","Liberation Sans",sans-serif' font-weight="200" font-size="13" fill="#35b777" textLength="30.2" lengthAdjust="spacingAndGlyphs">08:29</text>
<text transform="translate(37.4,22.4) skewX(-9)" font-family='"DejaVu Sans Light","DejaVu Sans","Liberation Sans",sans-serif' font-weight="200" font-size="11.2" fill="#35b777" textLength="10.8" lengthAdjust="spacingAndGlyphs">46</text>
<text x="8.6" y="30.2" font-family='"Liberation Serif","Noto Serif CJK SC",serif' font-weight="bold" font-size="5" fill="#f4f4f4" textLength="9.2" lengthAdjust="spacingAndGlyphs">计时</text>
<text transform="translate(22,30.5) skewX(-9)" font-family='"DejaVu Sans Light","DejaVu Sans","Liberation Sans",sans-serif' font-weight="200" font-size="7.3" fill="#d8382f" textLength="18.4" lengthAdjust="spacingAndGlyphs">00:30</text>
<text transform="translate(43.7,30.2) skewX(-9)" font-family='"DejaVu Sans Light","DejaVu Sans","Liberation Sans",sans-serif' font-weight="200" font-size="4.4" fill="#d8382f" textLength="4.3" lengthAdjust="spacingAndGlyphs">14</text>
</g>
<g transform="translate(556.5,1141)">
<rect x="0" y="0" width="54" height="34.5" fill="#d2d2d2" stroke="#9c9c9c" stroke-width="0.5"/>
<rect x="1.6" y="1.6" width="50.8" height="31.3" fill="#060606"/>
<text x="8.6" y="9.5" font-family='"Liberation Serif","Noto Serif CJK SC",serif' font-weight="bold" font-size="5" fill="#f4f4f4" textLength="9.2" lengthAdjust="spacingAndGlyphs">考试</text>
<text transform="translate(23.1,9.8) skewX(-9)" font-family='"DejaVu Sans Light","DejaVu Sans","Liberation Sans",sans-serif' font-weight="200" font-size="7.3" fill="#cdbd48" textLength="17.3" lengthAdjust="spacingAndGlyphs">09:00</text>
<text transform="translate(42.1,9.7) skewX(-9)" font-family='"DejaVu Sans Light","DejaVu Sans","Liberation Sans",sans-serif' font-weight="200" font-size="4.4" fill="#cdbd48" textLength="5.4" lengthAdjust="spacingAndGlyphs">00</text>
<text transform="translate(5.4,22.6) skewX(-9)" font-family='"DejaVu Sans Light","DejaVu Sans","Liberation Sans",sans-serif' font-weight="200" font-size="13" fill="#35b777" textLength="30.2" lengthAdjust="spacingAndGlyphs">08:29</text>
<text transform="translate(37.4,22.4) skewX(-9)" font-family='"DejaVu Sans Light","DejaVu Sans","Liberation Sans",sans-serif' font-weight="200" font-size="11.2" fill="#35b777" textLength="10.8" lengthAdjust="spacingAndGlyphs">46</text>
<text x="8.6" y="30.2" font-family='"Liberation Serif","Noto Serif CJK SC",serif' font-weight="bold" font-size="5" fill="#f4f4f4" textLength="9.2" lengthAdjust="spacingAndGlyphs">计时</text>
<text transform="translate(22,30.5) skewX(-9)" font-family='"DejaVu Sans Light","DejaVu Sans","Liberation Sans",sans-serif' font-weight="200" font-size="7.3" fill="#d8382f" textLength="18.4" lengthAdjust="spacingAndGlyphs">00:30</text>
<text transform="translate(43.7,30.2) skewX(-9)" font-family='"DejaVu Sans Light","DejaVu Sans","Liberation Sans",sans-serif' font-weight="200" font-size="4.4" fill="#d8382f" textLength="4.3" lengthAdjust="spacingAndGlyphs">14</text>
</g>
<ellipse cx="699.5" cy="1098" rx="24" ry="8" fill="#6d7d2c" stroke="#4c5a1a" stroke-width="0.6"/>
<rect x="681.5" y="1077" width="36" height="22" fill="#e4e4e4" stroke="#777" stroke-width="0.6"/>
<rect x="679.5" y="1074" width="40" height="3.5" fill="#8a8a8a"/>
<rect x="684.5" y="1080.5" width="5.5" height="5.5" fill="#3f78c8"/>
<rect x="692.7" y="1080.5" width="5.5" height="5.5" fill="#3f78c8"/>
<rect x="700.9" y="1080.5" width="5.5" height="5.5" fill="#3f78c8"/>
<rect x="709.1" y="1080.5" width="5.5" height="5.5" fill="#3f78c8"/>
<rect x="684.5" y="1089.5" width="5.5" height="5.5" fill="#3f78c8"/>
<rect x="692.7" y="1089.5" width="5.5" height="5.5" fill="#3f78c8"/>
<rect x="700.9" y="1089.5" width="5.5" height="5.5" fill="#3f78c8"/>
<rect x="709.1" y="1089.5" width="5.5" height="5.5" fill="#3f78c8"/>
<g transform="translate(716,1076) scale(1,0.8) translate(-728.6,-918.4)">
<path d="M738 951 C730 951 727 943 731 938 C728 930 736 924 744 927 C748 918 764 916 770 923 C778 917 794 919 797 928 C807 928 811 938 806 944 C808 951 798 956 791 952 C785 957 772 957 768 953 C760 957 748 957 746 952 C743 953 740 952 738 951 Z" fill="url(#lanG)" stroke="#3a9be0" stroke-width="1.400"/>
</g>
<text x="752.2" y="1094" font-family='"Liberation Sans","Noto Sans CJK SC",sans-serif' font-size="9.5" fill="#1a1a1a" font-weight="normal" text-anchor="middle" textLength="43" lengthAdjust="spacingAndGlyphs"  style="">内部局域网</text>
<rect x="776" y="1096" width="22" height="9" rx="2" fill="#2b50a8" stroke="#16295c" stroke-width="0.6"/>
<rect x="779" y="1084" width="1.8" height="13" fill="#1a1a1a"/><rect x="793" y="1084" width="1.8" height="13" fill="#1a1a1a"/>
<rect x="779" y="1105" width="16" height="2.4" fill="#16295c"/>
<text x="799.5" y="1108.5" font-family='"Liberation Sans","Noto Sans CJK SC",sans-serif' font-size="15.5" fill="#e07a1a" font-weight="bold" text-anchor="start" textLength="16" lengthAdjust="spacingAndGlyphs"  style="">Wi</text>
<text x="815.5" y="1107" font-family='"Liberation Sans","Noto Sans CJK SC",sans-serif' font-size="13" fill="#3a7bd5" font-weight="bold" text-anchor="start" textLength="10" lengthAdjust="spacingAndGlyphs"  style="">Fi</text>
<path d="M809 1094.4 A4 4 0 0 1 815 1094.4" fill="none" stroke="#2f9a3a" stroke-width="1.3"/>
<path d="M806.8 1092.4 A7 7 0 0 1 817.2 1092.4" fill="none" stroke="#2f9a3a" stroke-width="1.3"/>
<path d="M804.5 1090.4 A10 10 0 0 1 819.5 1090.4" fill="none" stroke="#2f9a3a" stroke-width="1.3"/>
<rect x="793" y="1038.500" width="18.500" height="34" rx="2.500" fill="#ffffff" stroke="#111" stroke-width="1.6"/>
<text x="802.2" y="1054" font-family='"Liberation Serif","Noto Serif CJK SC",serif' font-size="5.4" fill="#111111" font-weight="bold" text-anchor="middle" textLength="13" lengthAdjust="spacingAndGlyphs"  style="">LEDI</text>
<text x="802.2" y="1063" font-family='"Liberation Serif","Noto Serif CJK SC",serif' font-size="5.4" fill="#111111" font-weight="bold" text-anchor="middle" textLength="11" lengthAdjust="spacingAndGlyphs"  style="">APP</text>
<path d="M830.5 1054.3 C840.3 1053.5 848 1058.5 848 1066.9 C848 1072.4 841 1074.5 830.5 1074.5 C820 1074.5 813 1072.4 813 1066.9 C813 1058.5 820.7 1053.5 830.5 1054.3 Z" fill="#2f5fb0" stroke="#1c3e7a" stroke-width="1"/>
<path d="M825.6 1056 L835.4 1056 L830.5 1070.3 Z" fill="#ffffff"/>
<path d="M828.8 1056.9 L832.2 1056.9 L833 1067.8 L828 1067.8 Z" fill="#d22"/>
<ellipse cx="830.5" cy="1045.5" rx="12.2" ry="13" fill="url(#headG)" stroke="#a8660f" stroke-width="0.8"/>
<g transform="translate(731.5,1113.5) scale(0.9)">
<path d="M12 1 C20 -1 24 2 26 4 L34 4 C38 4 40 7 40 11 L40 16 C40 20 37 22 34 22 L22 22 C18 26 12 26 9 24 C3 23 0 18 0 13 C0 6 5 2 12 1 Z" fill="#2f6fb4"/>
<rect x="21.5" y="6.5" width="16.5" height="13.5" rx="4.5" fill="#ffffff"/>
<text x="3" y="18.2" font-family='"Liberation Sans","Noto Sans CJK SC",sans-serif' font-size="13.5" font-weight="bold" fill="#ffffff" textLength="17" lengthAdjust="spacingAndGlyphs">Wi</text>
<text x="23.5" y="18.2" font-family='"Liberation Sans","Noto Sans CJK SC",sans-serif' font-size="13.5" font-weight="bold" fill="#2f6fb4" textLength="12.5" lengthAdjust="spacingAndGlyphs">Fi</text>
</g>
<g transform="translate(803,1113.5) scale(0.9)">
<path d="M12 1 C20 -1 24 2 26 4 L34 4 C38 4 40 7 40 11 L40 16 C40 20 37 22 34 22 L22 22 C18 26 12 26 9 24 C3 23 0 18 0 13 C0 6 5 2 12 1 Z" fill="#2f6fb4"/>
<rect x="21.5" y="6.5" width="16.5" height="13.5" rx="4.5" fill="#ffffff"/>
<text x="3" y="18.2" font-family='"Liberation Sans","Noto Sans CJK SC",sans-serif' font-size="13.5" font-weight="bold" fill="#ffffff" textLength="17" lengthAdjust="spacingAndGlyphs">Wi</text>
<text x="23.5" y="18.2" font-family='"Liberation Sans","Noto Sans CJK SC",sans-serif' font-size="13.5" font-weight="bold" fill="#2f6fb4" textLength="12.5" lengthAdjust="spacingAndGlyphs">Fi</text>
</g>
<g transform="translate(721.5,1132.5)">
<rect x="0" y="0" width="54" height="34" fill="#d2d2d2" stroke="#9c9c9c" stroke-width="0.5"/>
<rect x="1.6" y="1.6" width="50.8" height="30.8" fill="#060606"/>
<text x="8.6" y="9.4" font-family='"Liberation Serif","Noto Serif CJK SC",serif' font-weight="bold" font-size="4.9" fill="#f4f4f4" textLength="9.2" lengthAdjust="spacingAndGlyphs">考试</text>
<text transform="translate(23.1,9.7) skewX(-9)" font-family='"DejaVu Sans Light","DejaVu Sans","Liberation Sans",sans-serif' font-weight="200" font-size="7.2" fill="#cdbd48" textLength="17.3" lengthAdjust="spacingAndGlyphs">09:00</text>
<text transform="translate(42.1,9.5) skewX(-9)" font-family='"DejaVu Sans Light","DejaVu Sans","Liberation Sans",sans-serif' font-weight="200" font-size="4.3" fill="#cdbd48" textLength="5.4" lengthAdjust="spacingAndGlyphs">00</text>
<text transform="translate(5.4,22.3) skewX(-9)" font-family='"DejaVu Sans Light","DejaVu Sans","Liberation Sans",sans-serif' font-weight="200" font-size="12.8" fill="#35b777" textLength="30.2" lengthAdjust="spacingAndGlyphs">08:29</text>
<text transform="translate(37.4,22.1) skewX(-9)" font-family='"DejaVu Sans Light","DejaVu Sans","Liberation Sans",sans-serif' font-weight="200" font-size="11" fill="#35b777" textLength="10.8" lengthAdjust="spacingAndGlyphs">46</text>
<text x="8.6" y="29.8" font-family='"Liberation Serif","Noto Serif CJK SC",serif' font-weight="bold" font-size="4.9" fill="#f4f4f4" textLength="9.2" lengthAdjust="spacingAndGlyphs">计时</text>
<text transform="translate(22,30.1) skewX(-9)" font-family='"DejaVu Sans Light","DejaVu Sans","Liberation Sans",sans-serif' font-weight="200" font-size="7.2" fill="#d8382f" textLength="18.4" lengthAdjust="spacingAndGlyphs">00:30</text>
<text transform="translate(43.7,29.8) skewX(-9)" font-family='"DejaVu Sans Light","DejaVu Sans","Liberation Sans",sans-serif' font-weight="200" font-size="4.3" fill="#d8382f" textLength="4.3" lengthAdjust="spacingAndGlyphs">14</text>
</g>
<g transform="translate(794.5,1132.5)">
<rect x="0" y="0" width="54" height="34" fill="#d2d2d2" stroke="#9c9c9c" stroke-width="0.5"/>
<rect x="1.6" y="1.6" width="50.8" height="30.8" fill="#060606"/>
<text x="8.6" y="9.4" font-family='"Liberation Serif","Noto Serif CJK SC",serif' font-weight="bold" font-size="4.9" fill="#f4f4f4" textLength="9.2" lengthAdjust="spacingAndGlyphs">考试</text>
<text transform="translate(23.1,9.7) skewX(-9)" font-family='"DejaVu Sans Light","DejaVu Sans","Liberation Sans",sans-serif' font-weight="200" font-size="7.2" fill="#cdbd48" textLength="17.3" lengthAdjust="spacingAndGlyphs">09:00</text>
<text transform="translate(42.1,9.5) skewX(-9)" font-family='"DejaVu Sans Light","DejaVu Sans","Liberation Sans",sans-serif' font-weight="200" font-size="4.3" fill="#cdbd48" textLength="5.4" lengthAdjust="spacingAndGlyphs">00</text>
<text transform="translate(5.4,22.3) skewX(-9)" font-family='"DejaVu Sans Light","DejaVu Sans","Liberation Sans",sans-serif' font-weight="200" font-size="12.8" fill="#35b777" textLength="30.2" lengthAdjust="spacingAndGlyphs">08:29</text>
<text transform="translate(37.4,22.1) skewX(-9)" font-family='"DejaVu Sans Light","DejaVu Sans","Liberation Sans",sans-serif' font-weight="200" font-size="11" fill="#35b777" textLength="10.8" lengthAdjust="spacingAndGlyphs">46</text>
<text x="8.6" y="29.8" font-family='"Liberation Serif","Noto Serif CJK SC",serif' font-weight="bold" font-size="4.9" fill="#f4f4f4" textLength="9.2" lengthAdjust="spacingAndGlyphs">计时</text>
<text transform="translate(22,30.1) skewX(-9)" font-family='"DejaVu Sans Light","DejaVu Sans","Liberation Sans",sans-serif' font-weight="200" font-size="7.2" fill="#d8382f" textLength="18.4" lengthAdjust="spacingAndGlyphs">00:30</text>
<text transform="translate(43.7,29.8) skewX(-9)" font-family='"DejaVu Sans Light","DejaVu Sans","Liberation Sans",sans-serif' font-weight="200" font-size="4.3" fill="#d8382f" textLength="4.3" lengthAdjust="spacingAndGlyphs">14</text>
</g>
<path d="M721.5 1197.2 A5.5 6.1 0 0 0 721.5 1204.8" fill="none" stroke="#2f6fc0" stroke-width="1.8" stroke-linecap="round"/>
<path d="M730.5 1197.2 A5.5 6.1 0 0 1 730.5 1204.8" fill="none" stroke="#2f6fc0" stroke-width="1.8" stroke-linecap="round"/>
<path d="M718.6 1194.7 A9 9.9 0 0 0 718.6 1207.3" fill="none" stroke="#2f6fc0" stroke-width="2" stroke-linecap="round"/>
<path d="M733.4 1194.7 A9 9.9 0 0 1 733.4 1207.3" fill="none" stroke="#2f6fc0" stroke-width="2" stroke-linecap="round"/>
<path d="M715.8 1192.2 A12.5 13.8 0 0 0 715.8 1209.8" fill="none" stroke="#2f6fc0" stroke-width="2.2" stroke-linecap="round"/>
<path d="M736.2 1192.2 A12.5 13.8 0 0 1 736.2 1209.8" fill="none" stroke="#2f6fc0" stroke-width="2.2" stroke-linecap="round"/>
<path d="M726 1199 L723 1212 M726 1199 L729 1212 M726 1199 L726 1212" stroke="#7d8fa8" stroke-width="1.1" fill="none"/>
<circle cx="726" cy="1198.500" r="1.600" fill="#9aa9bd"/>
<text x="713.500" y="1228" font-family='"Liberation Sans","Noto Sans CJK SC",sans-serif' font-size="22" font-weight="bold" font-style="italic" fill="#1f4f9a" textLength="30" lengthAdjust="spacingAndGlyphs">5G</text>
<text x="712.500" y="1227" font-family='"Liberation Sans","Noto Sans CJK SC",sans-serif' font-size="22" font-weight="bold" font-style="italic" fill="#3b7bd8" stroke="#2a62b8" stroke-width="0.500" textLength="30" lengthAdjust="spacingAndGlyphs">5G</text>
<rect x="755.500" y="1217.500" width="24" height="44" rx="3.500" fill="#2aa5e2"/>
<rect x="757.500" y="1223.500" width="20" height="30" fill="#ffffff"/>
<rect x="760" y="1230" width="15" height="15" rx="2" fill="#2aa5e2"/>
<text x="767.5" y="1242.5" font-family='"Liberation Sans","Noto Sans CJK SC",sans-serif' font-size="13" fill="#ffffff" font-weight="bold" text-anchor="middle"  style="">A</text>
<circle cx="767.500" cy="1257.300" r="2" fill="#ffffff"/><rect x="763.500" y="1220" width="8" height="1.400" rx="0.700" fill="#ffffff"/>
<path d="M794.2 1239.9 C803.4 1239 810.5 1244.2 810.5 1252.8 C810.5 1258.3 804 1260.5 794.2 1260.5 C784.5 1260.5 778 1258.3 778 1252.8 C778 1244.2 785.1 1239 794.2 1239.9 Z" fill="#5f7a2a" stroke="#3c4f17" stroke-width="1"/>
<path d="M789.7 1241.6 L798.8 1241.6 L794.2 1256.2 Z" fill="#ffffff"/>
<path d="M792.6 1242.4 L795.9 1242.4 L796.5 1253.6 L792 1253.6 Z" fill="#4a5e1e"/>
<ellipse cx="794.2" cy="1230.8" rx="11.4" ry="13.3" fill="url(#headG2)" stroke="#a8660f" stroke-width="0.8"/>
<g transform="translate(579,1215.5) scale(0.9)">
<path d="M10 3 C14 -1 22 -1 26 3 L34 3 C39 3 42 7 42 12 C42 18 38 21 34 21 L18 21 C15 25 8 25 6 21 C2 20 0 16 0 12 C0 7 4 3 10 3 Z" fill="#2f6fb4"/>
<rect x="21" y="5" width="19.5" height="14.5" rx="5" fill="#ffffff"/>
<text x="3" y="17.3" font-family='"Liberation Sans","Noto Sans CJK SC",sans-serif' font-size="13" font-weight="bold" fill="#ffffff" textLength="17" lengthAdjust="spacingAndGlyphs">4G</text>
<text x="22.5" y="17.3" font-family='"Liberation Sans","Noto Sans CJK SC",sans-serif' font-size="13" font-weight="bold" fill="#2f6fb4" textLength="16.5" lengthAdjust="spacingAndGlyphs">5G</text>
</g>
<g transform="translate(649.5,1215.5) scale(0.9)">
<path d="M10 3 C14 -1 22 -1 26 3 L34 3 C39 3 42 7 42 12 C42 18 38 21 34 21 L18 21 C15 25 8 25 6 21 C2 20 0 16 0 12 C0 7 4 3 10 3 Z" fill="#2f6fb4"/>
<rect x="21" y="5" width="19.5" height="14.5" rx="5" fill="#ffffff"/>
<text x="3" y="17.3" font-family='"Liberation Sans","Noto Sans CJK SC",sans-serif' font-size="13" font-weight="bold" fill="#ffffff" textLength="17" lengthAdjust="spacingAndGlyphs">4G</text>
<text x="22.5" y="17.3" font-family='"Liberation Sans","Noto Sans CJK SC",sans-serif' font-size="13" font-weight="bold" fill="#2f6fb4" textLength="16.5" lengthAdjust="spacingAndGlyphs">5G</text>
</g>
<g transform="translate(570.5,1231.5)">
<rect x="0" y="0" width="54" height="34.5" fill="#d2d2d2" stroke="#9c9c9c" stroke-width="0.5"/>
<rect x="1.6" y="1.6" width="50.8" height="31.3" fill="#060606"/>
<text x="8.6" y="9.5" font-family='"Liberation Serif","Noto Serif CJK SC",serif' font-weight="bold" font-size="5" fill="#f4f4f4" textLength="9.2" lengthAdjust="spacingAndGlyphs">考试</text>
<text transform="translate(23.1,9.8) skewX(-9)" font-family='"DejaVu Sans Light","DejaVu Sans","Liberation Sans",sans-serif' font-weight="200" font-size="7.3" fill="#cdbd48" textLength="17.3" lengthAdjust="spacingAndGlyphs">09:00</text>
<text transform="translate(42.1,9.7) skewX(-9)" font-family='"DejaVu Sans Light","DejaVu Sans","Liberation Sans",sans-serif' font-weight="200" font-size="4.4" fill="#cdbd48" textLength="5.4" lengthAdjust="spacingAndGlyphs">00</text>
<text transform="translate(5.4,22.6) skewX(-9)" font-family='"DejaVu Sans Light","DejaVu Sans","Liberation Sans",sans-serif' font-weight="200" font-size="13" fill="#35b777" textLength="30.2" lengthAdjust="spacingAndGlyphs">08:29</text>
<text transform="translate(37.4,22.4) skewX(-9)" font-family='"DejaVu Sans Light","DejaVu Sans","Liberation Sans",sans-serif' font-weight="200" font-size="11.2" fill="#35b777" textLength="10.8" lengthAdjust="spacingAndGlyphs">46</text>
<text x="8.6" y="30.2" font-family='"Liberation Serif","Noto Serif CJK SC",serif' font-weight="bold" font-size="5" fill="#f4f4f4" textLength="9.2" lengthAdjust="spacingAndGlyphs">计时</text>
<text transform="translate(22,30.5) skewX(-9)" font-family='"DejaVu Sans Light","DejaVu Sans","Liberation Sans",sans-serif' font-weight="200" font-size="7.3" fill="#d8382f" textLength="18.4" lengthAdjust="spacingAndGlyphs">00:30</text>
<text transform="translate(43.7,30.2) skewX(-9)" font-family='"DejaVu Sans Light","DejaVu Sans","Liberation Sans",sans-serif' font-weight="200" font-size="4.4" fill="#d8382f" textLength="4.3" lengthAdjust="spacingAndGlyphs">14</text>
</g>
<g transform="translate(642,1231.5)">
<rect x="0" y="0" width="54" height="34.5" fill="#d2d2d2" stroke="#9c9c9c" stroke-width="0.5"/>
<rect x="1.6" y="1.6" width="50.8" height="31.3" fill="#060606"/>
<text x="8.6" y="9.5" font-family='"Liberation Serif","Noto Serif CJK SC",serif' font-weight="bold" font-size="5" fill="#f4f4f4" textLength="9.2" lengthAdjust="spacingAndGlyphs">考试</text>
<text transform="translate(23.1,9.8) skewX(-9)" font-family='"DejaVu Sans Light","DejaVu Sans","Liberation Sans",sans-serif' font-weight="200" font-size="7.3" fill="#cdbd48" textLength="17.3" lengthAdjust="spacingAndGlyphs">09:00</text>
<text transform="translate(42.1,9.7) skewX(-9)" font-family='"DejaVu Sans Light","DejaVu Sans","Liberation Sans",sans-serif' font-weight="200" font-size="4.4" fill="#cdbd48" textLength="5.4" lengthAdjust="spacingAndGlyphs">00</text>
<text transform="translate(5.4,22.6) skewX(-9)" font-family='"DejaVu Sans Light","DejaVu Sans","Liberation Sans",sans-serif' font-weight="200" font-size="13" fill="#35b777" textLength="30.2" lengthAdjust="spacingAndGlyphs">08:29</text>
<text transform="translate(37.4,22.4) skewX(-9)" font-family='"DejaVu Sans Light","DejaVu Sans","Liberation Sans",sans-serif' font-weight="200" font-size="11.2" fill="#35b777" textLength="10.8" lengthAdjust="spacingAndGlyphs">46</text>
<text x="8.6" y="30.2" font-family='"Liberation Serif","Noto Serif CJK SC",serif' font-weight="bold" font-size="5" fill="#f4f4f4" textLength="9.2" lengthAdjust="spacingAndGlyphs">计时</text>
<text transform="translate(22,30.5) skewX(-9)" font-family='"DejaVu Sans Light","DejaVu Sans","Liberation Sans",sans-serif' font-weight="200" font-size="7.3" fill="#d8382f" textLength="18.4" lengthAdjust="spacingAndGlyphs">00:30</text>
<text transform="translate(43.7,30.2) skewX(-9)" font-family='"DejaVu Sans Light","DejaVu Sans","Liberation Sans",sans-serif' font-weight="200" font-size="4.4" fill="#d8382f" textLength="4.3" lengthAdjust="spacingAndGlyphs">14</text>
</g>
</svg>
</body></html>
